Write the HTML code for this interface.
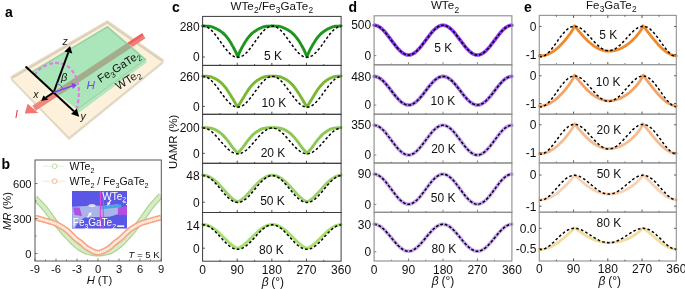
<!DOCTYPE html><html><head><meta charset="utf-8"><style>html,body{margin:0;padding:0;background:#fff;width:685px;height:289px;overflow:hidden}svg{display:block;will-change:transform}text{font-family:"Liberation Sans", sans-serif}</style></head><body>
<svg width="685" height="289" viewBox="0 0 685 289">
<rect width="685" height="289" fill="#fff"/>
<text x="5" y="16.5" font-size="14" text-anchor="start" font-weight="bold" font-style="normal" fill="#000" >a</text>
<text x="1.5" y="169" font-size="14" text-anchor="start" font-weight="bold" font-style="normal" fill="#000" >b</text>
<text x="172" y="12.3" font-size="14" text-anchor="start" font-weight="bold" font-style="normal" fill="#000" >c</text>
<text x="348.6" y="12" font-size="14" text-anchor="start" font-weight="bold" font-style="normal" fill="#000" >d</text>
<text x="524" y="12" font-size="14" text-anchor="start" font-weight="bold" font-style="normal" fill="#000" >e</text>
<text x="230.5" y="10" font-size="11.6" fill="#111">WTe<tspan dy="3.4" dx="0.3" font-size="8.4">2</tspan><tspan dy="-3.4">/Fe</tspan><tspan dy="3.4" dx="0.3" font-size="8.4">3</tspan><tspan dy="-3.4">GaTe</tspan><tspan dy="3.4" dx="0.3" font-size="8.4">2</tspan></text>
<text x="430.9" y="9.3" font-size="11.6" fill="#111">WTe<tspan dy="3.4" dx="0.3" font-size="8.4">2</tspan></text>
<text x="586.1" y="8.7" font-size="11.4" fill="#111">Fe<tspan dy="3.4" dx="0.3" font-size="8.4">3</tspan><tspan dy="-3.4">GaTe</tspan><tspan dy="3.4" dx="0.3" font-size="8.4">2</tspan></text>
<text transform="translate(177.0,141.8) rotate(-90)" x="0" y="0" font-size="11.4" text-anchor="middle" fill="#111">UAMR (%)</text>
<g>
<path d="M202.6 26.0 L203.1 26.0 L203.4 26.0 L204.1 26.0 L204.9 26.0 L205.7 26.1 L206.4 26.1 L207.2 26.1 L208.0 26.2 L208.8 26.3 L209.5 26.3 L210.3 26.4 L211.1 26.6 L211.8 26.8 L212.6 27.1 L213.4 27.4 L214.1 27.7 L214.9 28.1 L215.7 28.4 L216.4 28.8 L217.2 29.2 L218.0 29.6 L218.8 30.0 L219.5 30.5 L220.3 31.0 L221.1 31.5 L221.8 32.1 L222.6 32.7 L223.4 33.4 L224.1 34.1 L224.9 34.9 L225.7 35.7 L226.5 36.6 L227.2 37.6 L228.0 38.6 L228.8 39.7 L229.5 40.8 L230.3 42.0 L231.1 43.3 L231.8 44.6 L232.6 46.0 L233.4 47.3 L234.1 48.8 L234.9 50.3 L235.7 51.9 L236.5 53.6 L237.2 55.4 L237.7 56.8 L238.0 56.1 L238.8 54.1 L239.5 52.4 L240.3 50.7 L241.1 49.2 L241.8 47.8 L242.6 46.4 L243.4 45.0 L244.2 43.7 L244.9 42.4 L245.7 41.2 L246.5 40.0 L247.2 38.9 L248.0 37.9 L248.8 36.9 L249.5 36.0 L250.3 35.1 L251.1 34.3 L251.8 33.6 L252.6 32.9 L253.4 32.3 L254.2 31.7 L254.9 31.2 L255.7 30.7 L256.5 30.2 L257.2 29.7 L258.0 29.3 L258.8 28.9 L259.5 28.5 L260.3 28.2 L261.1 27.8 L261.8 27.5 L262.6 27.2 L263.4 26.9 L264.2 26.6 L264.9 26.5 L265.7 26.3 L266.5 26.3 L267.2 26.2 L268.0 26.2 L268.8 26.1 L269.5 26.1 L270.3 26.0 L271.1 26.0 L271.9 26.0 L272.4 26.0 L272.6 26.0 L273.4 26.0 L274.2 26.0 L274.9 26.1 L275.7 26.1 L276.5 26.1 L277.2 26.2 L278.0 26.3 L278.8 26.3 L279.5 26.4 L280.3 26.6 L281.1 26.8 L281.9 27.1 L282.6 27.4 L283.4 27.7 L284.2 28.1 L284.9 28.4 L285.7 28.8 L286.5 29.2 L287.2 29.6 L288.0 30.0 L288.8 30.5 L289.5 31.0 L290.3 31.5 L291.1 32.1 L291.9 32.7 L292.6 33.4 L293.4 34.1 L294.2 34.9 L294.9 35.7 L295.7 36.6 L296.5 37.6 L297.2 38.6 L298.0 39.7 L298.8 40.8 L299.6 42.0 L300.3 43.3 L301.1 44.6 L301.9 46.0 L302.6 47.3 L303.4 48.8 L304.2 50.3 L304.9 51.9 L305.7 53.6 L306.5 55.4 L307.0 56.8 L307.2 56.1 L308.0 54.1 L308.8 52.4 L309.6 50.7 L310.3 49.2 L311.1 47.8 L311.9 46.4 L312.6 45.0 L313.4 43.7 L314.2 42.4 L314.9 41.2 L315.7 40.0 L316.5 38.9 L317.2 37.9 L318.0 36.9 L318.8 36.0 L319.6 35.1 L320.3 34.3 L321.1 33.6 L321.9 32.9 L322.6 32.3 L323.4 31.7 L324.2 31.2 L324.9 30.7 L325.7 30.2 L326.5 29.7 L327.2 29.3 L328.0 28.9 L328.8 28.5 L329.6 28.2 L330.3 27.8 L331.1 27.5 L331.9 27.2 L332.6 26.9 L333.4 26.6 L334.2 26.5 L334.9 26.3 L335.7 26.3 L336.5 26.2 L337.3 26.2 L338.0 26.1 L338.8 26.1 L339.6 26.0 L340.3 26.0 L341.1 26.0" fill="none" stroke="#1c961c" stroke-width="2.9" stroke-linejoin="round" stroke-linecap="round"/>
<path d="M202.6 26.1 L203.1 26.1 L203.4 26.1 L204.1 26.2 L204.9 26.3 L205.7 26.5 L206.4 26.8 L207.2 27.2 L208.0 27.6 L208.8 28.1 L209.5 28.7 L210.3 29.3 L211.1 30.0 L211.8 30.7 L212.6 31.5 L213.4 32.4 L214.1 33.3 L214.9 34.2 L215.7 35.2 L216.4 36.2 L217.2 37.2 L218.0 38.3 L218.8 39.4 L219.5 40.4 L220.3 41.5 L221.1 42.6 L221.8 43.7 L222.6 44.8 L223.4 45.8 L224.1 46.9 L224.9 47.9 L225.7 48.9 L226.5 49.8 L227.2 50.7 L228.0 51.6 L228.8 52.4 L229.5 53.2 L230.3 53.9 L231.1 54.5 L231.8 55.1 L232.6 55.6 L233.4 56.1 L234.1 56.5 L234.9 56.8 L235.7 57.0 L236.5 57.2 L237.2 57.3 L237.7 57.3 L238.0 57.3 L238.8 57.2 L239.5 57.1 L240.3 56.9 L241.1 56.6 L241.8 56.2 L242.6 55.8 L243.4 55.3 L244.2 54.7 L244.9 54.1 L245.7 53.4 L246.5 52.7 L247.2 51.9 L248.0 51.0 L248.8 50.1 L249.5 49.2 L250.3 48.2 L251.1 47.2 L251.8 46.2 L252.6 45.1 L253.4 44.0 L254.2 43.0 L254.9 41.9 L255.7 40.8 L256.5 39.7 L257.2 38.6 L258.0 37.6 L258.8 36.5 L259.5 35.5 L260.3 34.5 L261.1 33.6 L261.8 32.7 L262.6 31.8 L263.4 31.0 L264.2 30.2 L264.9 29.5 L265.7 28.9 L266.5 28.3 L267.2 27.8 L268.0 27.3 L268.8 26.9 L269.5 26.6 L270.3 26.4 L271.1 26.2 L271.9 26.1 L272.4 26.1 L272.6 26.1 L273.4 26.2 L274.2 26.3 L274.9 26.5 L275.7 26.8 L276.5 27.2 L277.2 27.6 L278.0 28.1 L278.8 28.7 L279.5 29.3 L280.3 30.0 L281.1 30.7 L281.9 31.5 L282.6 32.4 L283.4 33.3 L284.2 34.2 L284.9 35.2 L285.7 36.2 L286.5 37.2 L287.2 38.3 L288.0 39.4 L288.8 40.4 L289.5 41.5 L290.3 42.6 L291.1 43.7 L291.9 44.8 L292.6 45.8 L293.4 46.9 L294.2 47.9 L294.9 48.9 L295.7 49.8 L296.5 50.7 L297.2 51.6 L298.0 52.4 L298.8 53.2 L299.6 53.9 L300.3 54.5 L301.1 55.1 L301.9 55.6 L302.6 56.1 L303.4 56.5 L304.2 56.8 L304.9 57.0 L305.7 57.2 L306.5 57.3 L307.0 57.3 L307.2 57.3 L308.0 57.2 L308.8 57.1 L309.6 56.9 L310.3 56.6 L311.1 56.2 L311.9 55.8 L312.6 55.3 L313.4 54.7 L314.2 54.1 L314.9 53.4 L315.7 52.7 L316.5 51.9 L317.2 51.0 L318.0 50.1 L318.8 49.2 L319.6 48.2 L320.3 47.2 L321.1 46.2 L321.9 45.1 L322.6 44.0 L323.4 43.0 L324.2 41.9 L324.9 40.8 L325.7 39.7 L326.5 38.6 L327.2 37.6 L328.0 36.5 L328.8 35.5 L329.6 34.5 L330.3 33.6 L331.1 32.7 L331.9 31.8 L332.6 31.0 L333.4 30.2 L334.2 29.5 L334.9 28.9 L335.7 28.3 L336.5 27.8 L337.3 27.3 L338.0 26.9 L338.8 26.6 L339.6 26.4 L340.3 26.2 L341.1 26.1" fill="none" stroke="#000" stroke-width="1.5" stroke-dasharray="2.6 2.2"/>
<path d="M202.6 76.1 L203.1 76.1 L203.4 76.1 L204.1 76.1 L204.9 76.1 L205.7 76.2 L206.4 76.2 L207.2 76.3 L208.0 76.4 L208.8 76.4 L209.5 76.5 L210.3 76.6 L211.1 76.8 L211.8 77.1 L212.6 77.5 L213.4 77.8 L214.1 78.1 L214.9 78.5 L215.7 78.9 L216.4 79.3 L217.2 79.7 L218.0 80.2 L218.8 80.8 L219.5 81.4 L220.3 82.0 L221.1 82.7 L221.8 83.5 L222.6 84.2 L223.4 85.1 L224.1 85.9 L224.9 86.9 L225.7 87.8 L226.5 88.9 L227.2 90.0 L228.0 91.2 L228.8 92.3 L229.5 93.5 L230.3 94.8 L231.1 96.0 L231.8 97.3 L232.6 98.5 L233.4 99.8 L234.1 101.1 L234.9 102.4 L235.7 103.7 L236.5 104.9 L237.2 106.0 L237.7 106.6 L238.0 106.3 L238.8 105.2 L239.5 104.1 L240.3 102.8 L241.1 101.5 L241.8 100.2 L242.6 98.9 L243.4 97.7 L244.2 96.4 L244.9 95.1 L245.7 93.9 L246.5 92.7 L247.2 91.5 L248.0 90.3 L248.8 89.2 L249.5 88.1 L250.3 87.1 L251.1 86.2 L251.8 85.3 L252.6 84.5 L253.4 83.7 L254.2 82.9 L254.9 82.2 L255.7 81.6 L256.5 81.0 L257.2 80.4 L258.0 79.9 L258.8 79.4 L259.5 79.0 L260.3 78.6 L261.1 78.2 L261.8 77.9 L262.6 77.6 L263.4 77.2 L264.2 76.9 L264.9 76.7 L265.7 76.6 L266.5 76.5 L267.2 76.4 L268.0 76.3 L268.8 76.2 L269.5 76.2 L270.3 76.1 L271.1 76.1 L271.9 76.1 L272.4 76.1 L272.6 76.1 L273.4 76.1 L274.2 76.1 L274.9 76.2 L275.7 76.2 L276.5 76.3 L277.2 76.4 L278.0 76.4 L278.8 76.5 L279.5 76.6 L280.3 76.8 L281.1 77.1 L281.9 77.5 L282.6 77.8 L283.4 78.1 L284.2 78.5 L284.9 78.9 L285.7 79.3 L286.5 79.7 L287.2 80.2 L288.0 80.8 L288.8 81.4 L289.5 82.0 L290.3 82.7 L291.1 83.5 L291.9 84.2 L292.6 85.1 L293.4 85.9 L294.2 86.9 L294.9 87.8 L295.7 88.9 L296.5 90.0 L297.2 91.2 L298.0 92.3 L298.8 93.5 L299.6 94.8 L300.3 96.0 L301.1 97.3 L301.9 98.5 L302.6 99.8 L303.4 101.1 L304.2 102.4 L304.9 103.7 L305.7 104.9 L306.5 106.0 L307.0 106.6 L307.2 106.3 L308.0 105.2 L308.8 104.1 L309.6 102.8 L310.3 101.5 L311.1 100.2 L311.9 98.9 L312.6 97.7 L313.4 96.4 L314.2 95.1 L314.9 93.9 L315.7 92.7 L316.5 91.5 L317.2 90.3 L318.0 89.2 L318.8 88.1 L319.6 87.1 L320.3 86.2 L321.1 85.3 L321.9 84.5 L322.6 83.7 L323.4 82.9 L324.2 82.2 L324.9 81.6 L325.7 81.0 L326.5 80.4 L327.2 79.9 L328.0 79.4 L328.8 79.0 L329.6 78.6 L330.3 78.2 L331.1 77.9 L331.9 77.6 L332.6 77.2 L333.4 76.9 L334.2 76.7 L334.9 76.6 L335.7 76.5 L336.5 76.4 L337.3 76.3 L338.0 76.2 L338.8 76.2 L339.6 76.1 L340.3 76.1 L341.1 76.1" fill="none" stroke="#78b832" stroke-width="2.9" stroke-linejoin="round" stroke-linecap="round"/>
<path d="M202.6 76.4 L203.1 76.4 L203.4 76.4 L204.1 76.5 L204.9 76.6 L205.7 76.8 L206.4 77.1 L207.2 77.5 L208.0 77.9 L208.8 78.4 L209.5 78.9 L210.3 79.6 L211.1 80.2 L211.8 81.0 L212.6 81.8 L213.4 82.6 L214.1 83.5 L214.9 84.4 L215.7 85.4 L216.4 86.3 L217.2 87.4 L218.0 88.4 L218.8 89.5 L219.5 90.5 L220.3 91.6 L221.1 92.7 L221.8 93.7 L222.6 94.8 L223.4 95.8 L224.1 96.8 L224.9 97.8 L225.7 98.8 L226.5 99.7 L227.2 100.6 L228.0 101.5 L228.8 102.3 L229.5 103.0 L230.3 103.7 L231.1 104.4 L231.8 105.0 L232.6 105.5 L233.4 105.9 L234.1 106.3 L234.9 106.6 L235.7 106.8 L236.5 107.0 L237.2 107.1 L237.7 107.1 L238.0 107.1 L238.8 107.0 L239.5 106.9 L240.3 106.7 L241.1 106.4 L241.8 106.0 L242.6 105.6 L243.4 105.1 L244.2 104.6 L244.9 103.9 L245.7 103.3 L246.5 102.5 L247.2 101.7 L248.0 100.9 L248.8 100.0 L249.5 99.1 L250.3 98.1 L251.1 97.2 L251.8 96.1 L252.6 95.1 L253.4 94.0 L254.2 93.0 L254.9 91.9 L255.7 90.8 L256.5 89.8 L257.2 88.7 L258.0 87.7 L258.8 86.7 L259.5 85.7 L260.3 84.7 L261.1 83.8 L261.8 82.9 L262.6 82.0 L263.4 81.2 L264.2 80.5 L264.9 79.8 L265.7 79.1 L266.5 78.5 L267.2 78.0 L268.0 77.6 L268.8 77.2 L269.5 76.9 L270.3 76.7 L271.1 76.5 L271.9 76.4 L272.4 76.4 L272.6 76.4 L273.4 76.5 L274.2 76.6 L274.9 76.8 L275.7 77.1 L276.5 77.5 L277.2 77.9 L278.0 78.4 L278.8 78.9 L279.5 79.6 L280.3 80.2 L281.1 81.0 L281.9 81.8 L282.6 82.6 L283.4 83.5 L284.2 84.4 L284.9 85.4 L285.7 86.3 L286.5 87.4 L287.2 88.4 L288.0 89.5 L288.8 90.5 L289.5 91.6 L290.3 92.7 L291.1 93.7 L291.9 94.8 L292.6 95.8 L293.4 96.8 L294.2 97.8 L294.9 98.8 L295.7 99.7 L296.5 100.6 L297.2 101.5 L298.0 102.3 L298.8 103.0 L299.6 103.7 L300.3 104.4 L301.1 105.0 L301.9 105.5 L302.6 105.9 L303.4 106.3 L304.2 106.6 L304.9 106.8 L305.7 107.0 L306.5 107.1 L307.0 107.1 L307.2 107.1 L308.0 107.0 L308.8 106.9 L309.6 106.7 L310.3 106.4 L311.1 106.0 L311.9 105.6 L312.6 105.1 L313.4 104.6 L314.2 103.9 L314.9 103.3 L315.7 102.5 L316.5 101.7 L317.2 100.9 L318.0 100.0 L318.8 99.1 L319.6 98.1 L320.3 97.2 L321.1 96.1 L321.9 95.1 L322.6 94.0 L323.4 93.0 L324.2 91.9 L324.9 90.8 L325.7 89.8 L326.5 88.7 L327.2 87.7 L328.0 86.7 L328.8 85.7 L329.6 84.7 L330.3 83.8 L331.1 82.9 L331.9 82.0 L332.6 81.2 L333.4 80.5 L334.2 79.8 L334.9 79.1 L335.7 78.5 L336.5 78.0 L337.3 77.6 L338.0 77.2 L338.8 76.9 L339.6 76.7 L340.3 76.5 L341.1 76.4" fill="none" stroke="#000" stroke-width="1.5" stroke-dasharray="2.6 2.2"/>
<path d="M202.6 127.6 L203.1 127.6 L203.4 127.6 L204.1 127.6 L204.9 127.6 L205.7 127.7 L206.4 127.7 L207.2 127.8 L208.0 127.9 L208.8 127.9 L209.5 128.0 L210.3 128.1 L211.1 128.2 L211.8 128.4 L212.6 128.6 L213.4 128.8 L214.1 129.1 L214.9 129.5 L215.7 129.9 L216.4 130.4 L217.2 130.8 L218.0 131.3 L218.8 131.8 L219.5 132.3 L220.3 132.9 L221.1 133.5 L221.8 134.1 L222.6 134.9 L223.4 135.6 L224.1 136.5 L224.9 137.3 L225.7 138.2 L226.5 139.1 L227.2 140.1 L228.0 141.0 L228.8 142.0 L229.5 143.1 L230.3 144.2 L231.1 145.3 L231.8 146.3 L232.6 147.4 L233.4 148.3 L234.1 149.2 L234.9 150.1 L235.7 151.0 L236.5 151.8 L237.2 152.7 L237.7 153.2 L238.0 152.9 L238.8 152.1 L239.5 151.2 L240.3 150.4 L241.1 149.5 L241.8 148.6 L242.6 147.7 L243.4 146.7 L244.2 145.6 L244.9 144.5 L245.7 143.4 L246.5 142.3 L247.2 141.3 L248.0 140.4 L248.8 139.4 L249.5 138.5 L250.3 137.6 L251.1 136.7 L251.8 135.9 L252.6 135.1 L253.4 134.3 L254.2 133.7 L254.9 133.1 L255.7 132.5 L256.5 132.0 L257.2 131.5 L258.0 131.0 L258.8 130.5 L259.5 130.0 L260.3 129.6 L261.1 129.2 L261.8 128.9 L262.6 128.7 L263.4 128.5 L264.2 128.3 L264.9 128.1 L265.7 128.0 L266.5 128.0 L267.2 127.9 L268.0 127.8 L268.8 127.7 L269.5 127.7 L270.3 127.7 L271.1 127.6 L271.9 127.6 L272.4 127.6 L272.6 127.6 L273.4 127.6 L274.2 127.6 L274.9 127.7 L275.7 127.7 L276.5 127.8 L277.2 127.9 L278.0 127.9 L278.8 128.0 L279.5 128.1 L280.3 128.2 L281.1 128.4 L281.9 128.6 L282.6 128.8 L283.4 129.1 L284.2 129.5 L284.9 129.9 L285.7 130.4 L286.5 130.8 L287.2 131.3 L288.0 131.8 L288.8 132.3 L289.5 132.9 L290.3 133.5 L291.1 134.1 L291.9 134.9 L292.6 135.6 L293.4 136.5 L294.2 137.3 L294.9 138.2 L295.7 139.1 L296.5 140.1 L297.2 141.0 L298.0 142.0 L298.8 143.1 L299.6 144.2 L300.3 145.3 L301.1 146.3 L301.9 147.4 L302.6 148.3 L303.4 149.2 L304.2 150.1 L304.9 151.0 L305.7 151.8 L306.5 152.7 L307.0 153.2 L307.2 152.9 L308.0 152.1 L308.8 151.2 L309.6 150.4 L310.3 149.5 L311.1 148.6 L311.9 147.7 L312.6 146.7 L313.4 145.6 L314.2 144.5 L314.9 143.4 L315.7 142.3 L316.5 141.3 L317.2 140.4 L318.0 139.4 L318.8 138.5 L319.6 137.6 L320.3 136.7 L321.1 135.9 L321.9 135.1 L322.6 134.3 L323.4 133.7 L324.2 133.1 L324.9 132.5 L325.7 132.0 L326.5 131.5 L327.2 131.0 L328.0 130.5 L328.8 130.0 L329.6 129.6 L330.3 129.2 L331.1 128.9 L331.9 128.7 L332.6 128.5 L333.4 128.3 L334.2 128.1 L334.9 128.0 L335.7 128.0 L336.5 127.9 L337.3 127.8 L338.0 127.7 L338.8 127.7 L339.6 127.7 L340.3 127.6 L341.1 127.6" fill="none" stroke="#8cc852" stroke-width="2.9" stroke-linejoin="round" stroke-linecap="round"/>
<path d="M202.6 128.0 L203.1 128.0 L203.4 128.0 L204.1 128.1 L204.9 128.2 L205.7 128.4 L206.4 128.6 L207.2 128.9 L208.0 129.2 L208.8 129.7 L209.5 130.1 L210.3 130.7 L211.1 131.2 L211.8 131.8 L212.6 132.5 L213.4 133.2 L214.1 133.9 L214.9 134.7 L215.7 135.5 L216.4 136.4 L217.2 137.2 L218.0 138.1 L218.8 139.0 L219.5 139.9 L220.3 140.8 L221.1 141.7 L221.8 142.6 L222.6 143.4 L223.4 144.3 L224.1 145.2 L224.9 146.0 L225.7 146.8 L226.5 147.6 L227.2 148.4 L228.0 149.1 L228.8 149.8 L229.5 150.4 L230.3 151.0 L231.1 151.5 L231.8 152.0 L232.6 152.4 L233.4 152.8 L234.1 153.1 L234.9 153.4 L235.7 153.6 L236.5 153.7 L237.2 153.8 L237.7 153.8 L238.0 153.8 L238.8 153.7 L239.5 153.6 L240.3 153.4 L241.1 153.2 L241.8 152.9 L242.6 152.6 L243.4 152.1 L244.2 151.7 L244.9 151.1 L245.7 150.6 L246.5 150.0 L247.2 149.3 L248.0 148.6 L248.8 147.9 L249.5 147.1 L250.3 146.3 L251.1 145.4 L251.8 144.6 L252.6 143.7 L253.4 142.8 L254.2 141.9 L254.9 141.0 L255.7 140.1 L256.5 139.2 L257.2 138.4 L258.0 137.5 L258.8 136.6 L259.5 135.8 L260.3 135.0 L261.1 134.2 L261.8 133.4 L262.6 132.7 L263.4 132.0 L264.2 131.4 L264.9 130.8 L265.7 130.3 L266.5 129.8 L267.2 129.4 L268.0 129.0 L268.8 128.7 L269.5 128.4 L270.3 128.2 L271.1 128.1 L271.9 128.0 L272.4 128.0 L272.6 128.0 L273.4 128.1 L274.2 128.2 L274.9 128.4 L275.7 128.6 L276.5 128.9 L277.2 129.2 L278.0 129.7 L278.8 130.1 L279.5 130.7 L280.3 131.2 L281.1 131.8 L281.9 132.5 L282.6 133.2 L283.4 133.9 L284.2 134.7 L284.9 135.5 L285.7 136.4 L286.5 137.2 L287.2 138.1 L288.0 139.0 L288.8 139.9 L289.5 140.8 L290.3 141.7 L291.1 142.6 L291.9 143.4 L292.6 144.3 L293.4 145.2 L294.2 146.0 L294.9 146.8 L295.7 147.6 L296.5 148.4 L297.2 149.1 L298.0 149.8 L298.8 150.4 L299.6 151.0 L300.3 151.5 L301.1 152.0 L301.9 152.4 L302.6 152.8 L303.4 153.1 L304.2 153.4 L304.9 153.6 L305.7 153.7 L306.5 153.8 L307.0 153.8 L307.2 153.8 L308.0 153.7 L308.8 153.6 L309.6 153.4 L310.3 153.2 L311.1 152.9 L311.9 152.6 L312.6 152.1 L313.4 151.7 L314.2 151.1 L314.9 150.6 L315.7 150.0 L316.5 149.3 L317.2 148.6 L318.0 147.9 L318.8 147.1 L319.6 146.3 L320.3 145.4 L321.1 144.6 L321.9 143.7 L322.6 142.8 L323.4 141.9 L324.2 141.0 L324.9 140.1 L325.7 139.2 L326.5 138.4 L327.2 137.5 L328.0 136.6 L328.8 135.8 L329.6 135.0 L330.3 134.2 L331.1 133.4 L331.9 132.7 L332.6 132.0 L333.4 131.4 L334.2 130.8 L334.9 130.3 L335.7 129.8 L336.5 129.4 L337.3 129.0 L338.0 128.7 L338.8 128.4 L339.6 128.2 L340.3 128.1 L341.1 128.0" fill="none" stroke="#000" stroke-width="1.5" stroke-dasharray="2.6 2.2"/>
<path d="M202.6 175.2 L203.1 175.2 L203.4 175.2 L204.1 175.2 L204.9 175.3 L205.7 175.5 L206.4 175.7 L207.2 175.9 L208.0 176.2 L208.8 176.5 L209.5 176.9 L210.3 177.3 L211.1 177.7 L211.8 178.2 L212.6 178.7 L213.4 179.3 L214.1 179.9 L214.9 180.6 L215.7 181.2 L216.4 181.9 L217.2 182.6 L218.0 183.4 L218.8 184.2 L219.5 185.0 L220.3 185.8 L221.1 186.6 L221.8 187.4 L222.6 188.3 L223.4 189.1 L224.1 190.0 L224.9 190.9 L225.7 191.7 L226.5 192.6 L227.2 193.4 L228.0 194.2 L228.8 195.0 L229.5 195.8 L230.3 196.6 L231.1 197.3 L231.8 198.0 L232.6 198.7 L233.4 199.3 L234.1 199.9 L234.9 200.4 L235.7 200.9 L236.5 201.2 L237.2 201.5 L237.7 201.6 L238.0 201.6 L238.8 201.3 L239.5 201.0 L240.3 200.5 L241.1 200.0 L241.8 199.5 L242.6 198.9 L243.4 198.2 L244.2 197.5 L244.9 196.8 L245.7 196.1 L246.5 195.3 L247.2 194.5 L248.0 193.6 L248.8 192.8 L249.5 192.0 L250.3 191.1 L251.1 190.3 L251.8 189.4 L252.6 188.5 L253.4 187.7 L254.2 186.9 L254.9 186.0 L255.7 185.2 L256.5 184.4 L257.2 183.6 L258.0 182.9 L258.8 182.1 L259.5 181.4 L260.3 180.7 L261.1 180.1 L261.8 179.5 L262.6 178.9 L263.4 178.4 L264.2 177.9 L264.9 177.4 L265.7 177.0 L266.5 176.6 L267.2 176.3 L268.0 176.0 L268.8 175.7 L269.5 175.5 L270.3 175.4 L271.1 175.3 L271.9 175.2 L272.4 175.2 L272.6 175.2 L273.4 175.2 L274.2 175.3 L274.9 175.5 L275.7 175.7 L276.5 175.9 L277.2 176.2 L278.0 176.5 L278.8 176.9 L279.5 177.3 L280.3 177.7 L281.1 178.2 L281.9 178.7 L282.6 179.3 L283.4 179.9 L284.2 180.6 L284.9 181.2 L285.7 181.9 L286.5 182.6 L287.2 183.4 L288.0 184.2 L288.8 185.0 L289.5 185.8 L290.3 186.6 L291.1 187.4 L291.9 188.3 L292.6 189.1 L293.4 190.0 L294.2 190.9 L294.9 191.7 L295.7 192.6 L296.5 193.4 L297.2 194.2 L298.0 195.0 L298.8 195.8 L299.6 196.6 L300.3 197.3 L301.1 198.0 L301.9 198.7 L302.6 199.3 L303.4 199.9 L304.2 200.4 L304.9 200.9 L305.7 201.2 L306.5 201.5 L307.0 201.6 L307.2 201.6 L308.0 201.3 L308.8 201.0 L309.6 200.5 L310.3 200.0 L311.1 199.5 L311.9 198.9 L312.6 198.2 L313.4 197.5 L314.2 196.8 L314.9 196.1 L315.7 195.3 L316.5 194.5 L317.2 193.6 L318.0 192.8 L318.8 192.0 L319.6 191.1 L320.3 190.3 L321.1 189.4 L321.9 188.5 L322.6 187.7 L323.4 186.9 L324.2 186.0 L324.9 185.2 L325.7 184.4 L326.5 183.6 L327.2 182.9 L328.0 182.1 L328.8 181.4 L329.6 180.7 L330.3 180.1 L331.1 179.5 L331.9 178.9 L332.6 178.4 L333.4 177.9 L334.2 177.4 L334.9 177.0 L335.7 176.6 L336.5 176.3 L337.3 176.0 L338.0 175.7 L338.8 175.5 L339.6 175.4 L340.3 175.3 L341.1 175.2" fill="none" stroke="#9ed070" stroke-width="2.9" stroke-linejoin="round" stroke-linecap="round"/>
<path d="M202.6 175.6 L203.1 175.6 L203.4 175.6 L204.1 175.7 L204.9 175.8 L205.7 176.0 L206.4 176.2 L207.2 176.5 L208.0 176.9 L208.8 177.3 L209.5 177.8 L210.3 178.4 L211.1 178.9 L211.8 179.6 L212.6 180.3 L213.4 181.0 L214.1 181.8 L214.9 182.6 L215.7 183.4 L216.4 184.3 L217.2 185.2 L218.0 186.1 L218.8 187.0 L219.5 187.9 L220.3 188.9 L221.1 189.8 L221.8 190.7 L222.6 191.6 L223.4 192.6 L224.1 193.5 L224.9 194.3 L225.7 195.2 L226.5 196.0 L227.2 196.8 L228.0 197.5 L228.8 198.2 L229.5 198.9 L230.3 199.5 L231.1 200.0 L231.8 200.5 L232.6 201.0 L233.4 201.4 L234.1 201.7 L234.9 202.0 L235.7 202.2 L236.5 202.3 L237.2 202.4 L237.7 202.4 L238.0 202.4 L238.8 202.3 L239.5 202.2 L240.3 202.0 L241.1 201.8 L241.8 201.5 L242.6 201.1 L243.4 200.7 L244.2 200.2 L244.9 199.6 L245.7 199.1 L246.5 198.4 L247.2 197.7 L248.0 197.0 L248.8 196.2 L249.5 195.4 L250.3 194.6 L251.1 193.7 L251.8 192.8 L252.6 191.9 L253.4 191.0 L254.2 190.1 L254.9 189.1 L255.7 188.2 L256.5 187.3 L257.2 186.4 L258.0 185.4 L258.8 184.5 L259.5 183.7 L260.3 182.8 L261.1 182.0 L261.8 181.2 L262.6 180.5 L263.4 179.8 L264.2 179.1 L264.9 178.5 L265.7 178.0 L266.5 177.5 L267.2 177.0 L268.0 176.6 L268.8 176.3 L269.5 176.0 L270.3 175.8 L271.1 175.7 L271.9 175.6 L272.4 175.6 L272.6 175.6 L273.4 175.7 L274.2 175.8 L274.9 176.0 L275.7 176.2 L276.5 176.5 L277.2 176.9 L278.0 177.3 L278.8 177.8 L279.5 178.4 L280.3 178.9 L281.1 179.6 L281.9 180.3 L282.6 181.0 L283.4 181.8 L284.2 182.6 L284.9 183.4 L285.7 184.3 L286.5 185.2 L287.2 186.1 L288.0 187.0 L288.8 187.9 L289.5 188.9 L290.3 189.8 L291.1 190.7 L291.9 191.6 L292.6 192.6 L293.4 193.5 L294.2 194.3 L294.9 195.2 L295.7 196.0 L296.5 196.8 L297.2 197.5 L298.0 198.2 L298.8 198.9 L299.6 199.5 L300.3 200.0 L301.1 200.5 L301.9 201.0 L302.6 201.4 L303.4 201.7 L304.2 202.0 L304.9 202.2 L305.7 202.3 L306.5 202.4 L307.0 202.4 L307.2 202.4 L308.0 202.3 L308.8 202.2 L309.6 202.0 L310.3 201.8 L311.1 201.5 L311.9 201.1 L312.6 200.7 L313.4 200.2 L314.2 199.6 L314.9 199.1 L315.7 198.4 L316.5 197.7 L317.2 197.0 L318.0 196.2 L318.8 195.4 L319.6 194.6 L320.3 193.7 L321.1 192.8 L321.9 191.9 L322.6 191.0 L323.4 190.1 L324.2 189.1 L324.9 188.2 L325.7 187.3 L326.5 186.4 L327.2 185.4 L328.0 184.5 L328.8 183.7 L329.6 182.8 L330.3 182.0 L331.1 181.2 L331.9 180.5 L332.6 179.8 L333.4 179.1 L334.2 178.5 L334.9 178.0 L335.7 177.5 L336.5 177.0 L337.3 176.6 L338.0 176.3 L338.8 176.0 L339.6 175.8 L340.3 175.7 L341.1 175.6" fill="none" stroke="#000" stroke-width="1.5" stroke-dasharray="2.6 2.2"/>
<path d="M202.6 224.5 L203.1 224.5 L203.4 224.5 L204.1 224.5 L204.9 224.6 L205.7 224.7 L206.4 224.9 L207.2 225.1 L208.0 225.4 L208.8 225.7 L209.5 226.0 L210.3 226.4 L211.1 226.8 L211.8 227.2 L212.6 227.7 L213.4 228.2 L214.1 228.7 L214.9 229.3 L215.7 229.9 L216.4 230.5 L217.2 231.2 L218.0 231.9 L218.8 232.6 L219.5 233.3 L220.3 234.0 L221.1 234.7 L221.8 235.5 L222.6 236.3 L223.4 237.0 L224.1 237.8 L224.9 238.6 L225.7 239.3 L226.5 240.1 L227.2 240.8 L228.0 241.6 L228.8 242.3 L229.5 243.0 L230.3 243.7 L231.1 244.4 L231.8 245.0 L232.6 245.6 L233.4 246.1 L234.1 246.7 L234.9 247.1 L235.7 247.5 L236.5 247.9 L237.2 248.1 L237.7 248.2 L238.0 248.2 L238.8 248.0 L239.5 247.6 L240.3 247.3 L241.1 246.8 L241.8 246.3 L242.6 245.8 L243.4 245.2 L244.2 244.5 L244.9 243.9 L245.7 243.2 L246.5 242.5 L247.2 241.8 L248.0 241.1 L248.8 240.3 L249.5 239.6 L250.3 238.8 L251.1 238.0 L251.8 237.3 L252.6 236.5 L253.4 235.7 L254.2 235.0 L254.9 234.2 L255.7 233.5 L256.5 232.8 L257.2 232.1 L258.0 231.4 L258.8 230.7 L259.5 230.1 L260.3 229.5 L261.1 228.9 L261.8 228.3 L262.6 227.8 L263.4 227.3 L264.2 226.9 L264.9 226.5 L265.7 226.1 L266.5 225.7 L267.2 225.4 L268.0 225.2 L268.8 225.0 L269.5 224.8 L270.3 224.7 L271.1 224.6 L271.9 224.5 L272.4 224.5 L272.6 224.5 L273.4 224.5 L274.2 224.6 L274.9 224.7 L275.7 224.9 L276.5 225.1 L277.2 225.4 L278.0 225.7 L278.8 226.0 L279.5 226.4 L280.3 226.8 L281.1 227.2 L281.9 227.7 L282.6 228.2 L283.4 228.7 L284.2 229.3 L284.9 229.9 L285.7 230.5 L286.5 231.2 L287.2 231.9 L288.0 232.6 L288.8 233.3 L289.5 234.0 L290.3 234.7 L291.1 235.5 L291.9 236.3 L292.6 237.0 L293.4 237.8 L294.2 238.6 L294.9 239.3 L295.7 240.1 L296.5 240.8 L297.2 241.6 L298.0 242.3 L298.8 243.0 L299.6 243.7 L300.3 244.4 L301.1 245.0 L301.9 245.6 L302.6 246.1 L303.4 246.7 L304.2 247.1 L304.9 247.5 L305.7 247.9 L306.5 248.1 L307.0 248.2 L307.2 248.2 L308.0 248.0 L308.8 247.6 L309.6 247.3 L310.3 246.8 L311.1 246.3 L311.9 245.8 L312.6 245.2 L313.4 244.5 L314.2 243.9 L314.9 243.2 L315.7 242.5 L316.5 241.8 L317.2 241.1 L318.0 240.3 L318.8 239.6 L319.6 238.8 L320.3 238.0 L321.1 237.3 L321.9 236.5 L322.6 235.7 L323.4 235.0 L324.2 234.2 L324.9 233.5 L325.7 232.8 L326.5 232.1 L327.2 231.4 L328.0 230.7 L328.8 230.1 L329.6 229.5 L330.3 228.9 L331.1 228.3 L331.9 227.8 L332.6 227.3 L333.4 226.9 L334.2 226.5 L334.9 226.1 L335.7 225.7 L336.5 225.4 L337.3 225.2 L338.0 225.0 L338.8 224.8 L339.6 224.7 L340.3 224.6 L341.1 224.5" fill="none" stroke="#a8e070" stroke-width="2.9" stroke-linejoin="round" stroke-linecap="round"/>
<path d="M202.6 224.8 L203.1 224.8 L203.4 224.8 L204.1 224.9 L204.9 225.0 L205.7 225.1 L206.4 225.4 L207.2 225.6 L208.0 226.0 L208.8 226.4 L209.5 226.8 L210.3 227.3 L211.1 227.9 L211.8 228.4 L212.6 229.1 L213.4 229.7 L214.1 230.5 L214.9 231.2 L215.7 232.0 L216.4 232.7 L217.2 233.6 L218.0 234.4 L218.8 235.2 L219.5 236.1 L220.3 236.9 L221.1 237.8 L221.8 238.6 L222.6 239.5 L223.4 240.3 L224.1 241.1 L224.9 241.9 L225.7 242.7 L226.5 243.4 L227.2 244.1 L228.0 244.8 L228.8 245.5 L229.5 246.1 L230.3 246.6 L231.1 247.1 L231.8 247.6 L232.6 248.0 L233.4 248.4 L234.1 248.7 L234.9 248.9 L235.7 249.1 L236.5 249.2 L237.2 249.3 L237.7 249.3 L238.0 249.3 L238.8 249.2 L239.5 249.1 L240.3 249.0 L241.1 248.7 L241.8 248.5 L242.6 248.1 L243.4 247.7 L244.2 247.3 L244.9 246.8 L245.7 246.2 L246.5 245.7 L247.2 245.0 L248.0 244.4 L248.8 243.6 L249.5 242.9 L250.3 242.1 L251.1 241.4 L251.8 240.5 L252.6 239.7 L253.4 238.9 L254.2 238.0 L254.9 237.2 L255.7 236.3 L256.5 235.5 L257.2 234.6 L258.0 233.8 L258.8 233.0 L259.5 232.2 L260.3 231.4 L261.1 230.7 L261.8 230.0 L262.6 229.3 L263.4 228.6 L264.2 228.0 L264.9 227.5 L265.7 227.0 L266.5 226.5 L267.2 226.1 L268.0 225.7 L268.8 225.4 L269.5 225.2 L270.3 225.0 L271.1 224.9 L271.9 224.8 L272.4 224.8 L272.6 224.8 L273.4 224.9 L274.2 225.0 L274.9 225.1 L275.7 225.4 L276.5 225.6 L277.2 226.0 L278.0 226.4 L278.8 226.8 L279.5 227.3 L280.3 227.9 L281.1 228.4 L281.9 229.1 L282.6 229.7 L283.4 230.5 L284.2 231.2 L284.9 232.0 L285.7 232.7 L286.5 233.6 L287.2 234.4 L288.0 235.2 L288.8 236.1 L289.5 236.9 L290.3 237.8 L291.1 238.6 L291.9 239.5 L292.6 240.3 L293.4 241.1 L294.2 241.9 L294.9 242.7 L295.7 243.4 L296.5 244.1 L297.2 244.8 L298.0 245.5 L298.8 246.1 L299.6 246.6 L300.3 247.1 L301.1 247.6 L301.9 248.0 L302.6 248.4 L303.4 248.7 L304.2 248.9 L304.9 249.1 L305.7 249.2 L306.5 249.3 L307.0 249.3 L307.2 249.3 L308.0 249.2 L308.8 249.1 L309.6 249.0 L310.3 248.7 L311.1 248.5 L311.9 248.1 L312.6 247.7 L313.4 247.3 L314.2 246.8 L314.9 246.2 L315.7 245.7 L316.5 245.0 L317.2 244.4 L318.0 243.6 L318.8 242.9 L319.6 242.1 L320.3 241.4 L321.1 240.5 L321.9 239.7 L322.6 238.9 L323.4 238.0 L324.2 237.2 L324.9 236.3 L325.7 235.5 L326.5 234.6 L327.2 233.8 L328.0 233.0 L328.8 232.2 L329.6 231.4 L330.3 230.7 L331.1 230.0 L331.9 229.3 L332.6 228.6 L333.4 228.0 L334.2 227.5 L334.9 227.0 L335.7 226.5 L336.5 226.1 L337.3 225.7 L338.0 225.4 L338.8 225.2 L339.6 225.0 L340.3 224.9 L341.1 224.8" fill="none" stroke="#000" stroke-width="1.5" stroke-dasharray="2.6 2.2"/>
<rect x="202.6" y="16.4" width="138.5" height="49" fill="none" stroke="#3c3c3c" stroke-width="1"/>
<line x1="219.91" y1="65.4" x2="219.91" y2="64.1" stroke="#3c3c3c" stroke-width="0.9"/>
<line x1="237.22" y1="65.4" x2="237.22" y2="62.8" stroke="#3c3c3c" stroke-width="0.9"/>
<line x1="254.54" y1="65.4" x2="254.54" y2="64.1" stroke="#3c3c3c" stroke-width="0.9"/>
<line x1="271.85" y1="65.4" x2="271.85" y2="62.8" stroke="#3c3c3c" stroke-width="0.9"/>
<line x1="289.16" y1="65.4" x2="289.16" y2="64.1" stroke="#3c3c3c" stroke-width="0.9"/>
<line x1="306.48" y1="65.4" x2="306.48" y2="62.8" stroke="#3c3c3c" stroke-width="0.9"/>
<line x1="323.79" y1="65.4" x2="323.79" y2="64.1" stroke="#3c3c3c" stroke-width="0.9"/>
<line x1="202.6" y1="26.2" x2="204.8" y2="26.2" stroke="#3c3c3c" stroke-width="0.9"/>
<line x1="202.6" y1="57" x2="204.8" y2="57" stroke="#3c3c3c" stroke-width="0.9"/>
<text x="199.7" y="30.5" font-size="12" text-anchor="end" font-weight="normal" font-style="normal" fill="#111" >280</text>
<text x="199.7" y="61.3" font-size="12" text-anchor="end" font-weight="normal" font-style="normal" fill="#111" >0</text>
<text x="273" y="59.7" font-size="12" text-anchor="middle" font-weight="normal" font-style="normal" fill="#111" >5 K</text>
<rect x="202.6" y="65.4" width="138.5" height="48.9" fill="none" stroke="#3c3c3c" stroke-width="1"/>
<line x1="219.91" y1="114.3" x2="219.91" y2="113" stroke="#3c3c3c" stroke-width="0.9"/>
<line x1="237.22" y1="114.3" x2="237.22" y2="111.7" stroke="#3c3c3c" stroke-width="0.9"/>
<line x1="254.54" y1="114.3" x2="254.54" y2="113" stroke="#3c3c3c" stroke-width="0.9"/>
<line x1="271.85" y1="114.3" x2="271.85" y2="111.7" stroke="#3c3c3c" stroke-width="0.9"/>
<line x1="289.16" y1="114.3" x2="289.16" y2="113" stroke="#3c3c3c" stroke-width="0.9"/>
<line x1="306.48" y1="114.3" x2="306.48" y2="111.7" stroke="#3c3c3c" stroke-width="0.9"/>
<line x1="323.79" y1="114.3" x2="323.79" y2="113" stroke="#3c3c3c" stroke-width="0.9"/>
<line x1="202.6" y1="77" x2="204.8" y2="77" stroke="#3c3c3c" stroke-width="0.9"/>
<line x1="202.6" y1="106.4" x2="204.8" y2="106.4" stroke="#3c3c3c" stroke-width="0.9"/>
<text x="199.7" y="81.3" font-size="12" text-anchor="end" font-weight="normal" font-style="normal" fill="#111" >260</text>
<text x="199.7" y="110.7" font-size="12" text-anchor="end" font-weight="normal" font-style="normal" fill="#111" >0</text>
<text x="273.8" y="106.8" font-size="12" text-anchor="middle" font-weight="normal" font-style="normal" fill="#111" >10 K</text>
<rect x="202.6" y="114.3" width="138.5" height="49" fill="none" stroke="#3c3c3c" stroke-width="1"/>
<line x1="219.91" y1="163.3" x2="219.91" y2="162" stroke="#3c3c3c" stroke-width="0.9"/>
<line x1="237.22" y1="163.3" x2="237.22" y2="160.7" stroke="#3c3c3c" stroke-width="0.9"/>
<line x1="254.54" y1="163.3" x2="254.54" y2="162" stroke="#3c3c3c" stroke-width="0.9"/>
<line x1="271.85" y1="163.3" x2="271.85" y2="160.7" stroke="#3c3c3c" stroke-width="0.9"/>
<line x1="289.16" y1="163.3" x2="289.16" y2="162" stroke="#3c3c3c" stroke-width="0.9"/>
<line x1="306.48" y1="163.3" x2="306.48" y2="160.7" stroke="#3c3c3c" stroke-width="0.9"/>
<line x1="323.79" y1="163.3" x2="323.79" y2="162" stroke="#3c3c3c" stroke-width="0.9"/>
<line x1="202.6" y1="127.7" x2="204.8" y2="127.7" stroke="#3c3c3c" stroke-width="0.9"/>
<line x1="202.6" y1="153.3" x2="204.8" y2="153.3" stroke="#3c3c3c" stroke-width="0.9"/>
<text x="199.7" y="132" font-size="12" text-anchor="end" font-weight="normal" font-style="normal" fill="#111" >200</text>
<text x="199.7" y="157.6" font-size="12" text-anchor="end" font-weight="normal" font-style="normal" fill="#111" >0</text>
<text x="273" y="156.8" font-size="12" text-anchor="middle" font-weight="normal" font-style="normal" fill="#111" >20 K</text>
<rect x="202.6" y="163.3" width="138.5" height="49.2" fill="none" stroke="#3c3c3c" stroke-width="1"/>
<line x1="219.91" y1="212.5" x2="219.91" y2="211.2" stroke="#3c3c3c" stroke-width="0.9"/>
<line x1="237.22" y1="212.5" x2="237.22" y2="209.9" stroke="#3c3c3c" stroke-width="0.9"/>
<line x1="254.54" y1="212.5" x2="254.54" y2="211.2" stroke="#3c3c3c" stroke-width="0.9"/>
<line x1="271.85" y1="212.5" x2="271.85" y2="209.9" stroke="#3c3c3c" stroke-width="0.9"/>
<line x1="289.16" y1="212.5" x2="289.16" y2="211.2" stroke="#3c3c3c" stroke-width="0.9"/>
<line x1="306.48" y1="212.5" x2="306.48" y2="209.9" stroke="#3c3c3c" stroke-width="0.9"/>
<line x1="323.79" y1="212.5" x2="323.79" y2="211.2" stroke="#3c3c3c" stroke-width="0.9"/>
<line x1="202.6" y1="175.3" x2="204.8" y2="175.3" stroke="#3c3c3c" stroke-width="0.9"/>
<line x1="202.6" y1="202.2" x2="204.8" y2="202.2" stroke="#3c3c3c" stroke-width="0.9"/>
<text x="199.7" y="179.6" font-size="12" text-anchor="end" font-weight="normal" font-style="normal" fill="#111" >48</text>
<text x="199.7" y="206.5" font-size="12" text-anchor="end" font-weight="normal" font-style="normal" fill="#111" >0</text>
<text x="272.5" y="204.7" font-size="12" text-anchor="middle" font-weight="normal" font-style="normal" fill="#111" >50 K</text>
<rect x="202.6" y="212.5" width="138.5" height="48.7" fill="none" stroke="#3c3c3c" stroke-width="1"/>
<line x1="219.91" y1="261.2" x2="219.91" y2="259.9" stroke="#3c3c3c" stroke-width="0.9"/>
<line x1="237.22" y1="261.2" x2="237.22" y2="258.6" stroke="#3c3c3c" stroke-width="0.9"/>
<line x1="254.54" y1="261.2" x2="254.54" y2="259.9" stroke="#3c3c3c" stroke-width="0.9"/>
<line x1="271.85" y1="261.2" x2="271.85" y2="258.6" stroke="#3c3c3c" stroke-width="0.9"/>
<line x1="289.16" y1="261.2" x2="289.16" y2="259.9" stroke="#3c3c3c" stroke-width="0.9"/>
<line x1="306.48" y1="261.2" x2="306.48" y2="258.6" stroke="#3c3c3c" stroke-width="0.9"/>
<line x1="323.79" y1="261.2" x2="323.79" y2="259.9" stroke="#3c3c3c" stroke-width="0.9"/>
<line x1="202.6" y1="225.7" x2="204.8" y2="225.7" stroke="#3c3c3c" stroke-width="0.9"/>
<line x1="202.6" y1="248.2" x2="204.8" y2="248.2" stroke="#3c3c3c" stroke-width="0.9"/>
<text x="199.7" y="230" font-size="12" text-anchor="end" font-weight="normal" font-style="normal" fill="#111" >14</text>
<text x="199.7" y="252.5" font-size="12" text-anchor="end" font-weight="normal" font-style="normal" fill="#111" >0</text>
<text x="271.4" y="253.8" font-size="12" text-anchor="middle" font-weight="normal" font-style="normal" fill="#111" >80 K</text>
<text x="202.6" y="274.3" font-size="12" text-anchor="middle" font-weight="normal" font-style="normal" fill="#111" >0</text>
<text x="237.22" y="274.3" font-size="12" text-anchor="middle" font-weight="normal" font-style="normal" fill="#111" >90</text>
<text x="271.85" y="274.3" font-size="12" text-anchor="middle" font-weight="normal" font-style="normal" fill="#111" >180</text>
<text x="306.48" y="274.3" font-size="12" text-anchor="middle" font-weight="normal" font-style="normal" fill="#111" >270</text>
<text x="341.1" y="274.3" font-size="12" text-anchor="middle" font-weight="normal" font-style="normal" fill="#111" >360</text>
<text x="272.85" y="285.8" font-size="12" text-anchor="middle" fill="#111"><tspan font-style="italic">&#946;</tspan><tspan dx="-0.6"> (°)</tspan></text>
</g>
<g>
<path d="M374.1 25.3 L374.9 25.3 L375.6 25.4 L376.4 25.6 L377.2 25.9 L377.9 26.2 L378.7 26.6 L379.5 27.0 L380.2 27.6 L381.0 28.1 L381.8 28.8 L382.5 29.5 L383.3 30.2 L384.1 31.0 L384.8 31.8 L385.6 32.7 L386.3 33.6 L387.1 34.6 L387.9 35.6 L388.6 36.6 L389.4 37.6 L390.2 38.6 L390.9 39.6 L391.7 40.7 L392.5 41.7 L393.2 42.7 L394.0 43.7 L394.8 44.7 L395.5 45.7 L396.3 46.7 L397.1 47.6 L397.8 48.5 L398.6 49.3 L399.4 50.1 L400.1 50.8 L400.9 51.5 L401.7 52.2 L402.4 52.7 L403.2 53.3 L404.0 53.7 L404.7 54.1 L405.5 54.4 L406.3 54.7 L407.0 54.9 L407.8 55.0 L408.6 55.0 L409.3 55.0 L410.1 54.9 L410.8 54.7 L411.6 54.4 L412.4 54.1 L413.1 53.7 L413.9 53.3 L414.7 52.7 L415.4 52.2 L416.2 51.5 L417.0 50.8 L417.7 50.1 L418.5 49.3 L419.3 48.5 L420.0 47.6 L420.8 46.7 L421.6 45.7 L422.3 44.7 L423.1 43.7 L423.9 42.7 L424.6 41.7 L425.4 40.7 L426.2 39.6 L426.9 38.6 L427.7 37.6 L428.5 36.6 L429.2 35.6 L430.0 34.6 L430.8 33.6 L431.5 32.7 L432.3 31.8 L433.0 31.0 L433.8 30.2 L434.6 29.5 L435.3 28.8 L436.1 28.1 L436.9 27.6 L437.6 27.0 L438.4 26.6 L439.2 26.2 L439.9 25.9 L440.7 25.6 L441.5 25.4 L442.2 25.3 L443.0 25.3 L443.8 25.3 L444.5 25.4 L445.3 25.6 L446.1 25.9 L446.8 26.2 L447.6 26.6 L448.4 27.0 L449.1 27.6 L449.9 28.1 L450.7 28.8 L451.4 29.5 L452.2 30.2 L453.0 31.0 L453.7 31.8 L454.5 32.7 L455.2 33.6 L456.0 34.6 L456.8 35.6 L457.5 36.6 L458.3 37.6 L459.1 38.6 L459.8 39.6 L460.6 40.7 L461.4 41.7 L462.1 42.7 L462.9 43.7 L463.7 44.7 L464.4 45.7 L465.2 46.7 L466.0 47.6 L466.7 48.5 L467.5 49.3 L468.3 50.1 L469.0 50.8 L469.8 51.5 L470.6 52.2 L471.3 52.7 L472.1 53.3 L472.9 53.7 L473.6 54.1 L474.4 54.4 L475.2 54.7 L475.9 54.9 L476.7 55.0 L477.4 55.0 L478.2 55.0 L479.0 54.9 L479.7 54.7 L480.5 54.4 L481.3 54.1 L482.0 53.7 L482.8 53.3 L483.6 52.7 L484.3 52.2 L485.1 51.5 L485.9 50.8 L486.6 50.1 L487.4 49.3 L488.2 48.5 L488.9 47.6 L489.7 46.7 L490.5 45.7 L491.2 44.7 L492.0 43.7 L492.8 42.7 L493.5 41.7 L494.3 40.7 L495.1 39.6 L495.8 38.6 L496.6 37.6 L497.4 36.6 L498.1 35.6 L498.9 34.6 L499.7 33.6 L500.4 32.7 L501.2 31.8 L501.9 31.0 L502.7 30.2 L503.5 29.5 L504.2 28.8 L505.0 28.1 L505.8 27.6 L506.5 27.0 L507.3 26.6 L508.1 26.2 L508.8 25.9 L509.6 25.6 L510.4 25.4 L511.1 25.3 L511.9 25.3" fill="none" stroke="#8e3cf6" stroke-width="3.6" stroke-linejoin="round" stroke-linecap="round"/>
<path d="M374.1 25.3 L374.9 25.3 L375.6 25.4 L376.4 25.6 L377.2 25.9 L377.9 26.2 L378.7 26.6 L379.5 27.0 L380.2 27.6 L381.0 28.1 L381.8 28.8 L382.5 29.5 L383.3 30.2 L384.1 31.0 L384.8 31.8 L385.6 32.7 L386.3 33.6 L387.1 34.6 L387.9 35.6 L388.6 36.6 L389.4 37.6 L390.2 38.6 L390.9 39.6 L391.7 40.7 L392.5 41.7 L393.2 42.7 L394.0 43.7 L394.8 44.7 L395.5 45.7 L396.3 46.7 L397.1 47.6 L397.8 48.5 L398.6 49.3 L399.4 50.1 L400.1 50.8 L400.9 51.5 L401.7 52.2 L402.4 52.7 L403.2 53.3 L404.0 53.7 L404.7 54.1 L405.5 54.4 L406.3 54.7 L407.0 54.9 L407.8 55.0 L408.6 55.0 L409.3 55.0 L410.1 54.9 L410.8 54.7 L411.6 54.4 L412.4 54.1 L413.1 53.7 L413.9 53.3 L414.7 52.7 L415.4 52.2 L416.2 51.5 L417.0 50.8 L417.7 50.1 L418.5 49.3 L419.3 48.5 L420.0 47.6 L420.8 46.7 L421.6 45.7 L422.3 44.7 L423.1 43.7 L423.9 42.7 L424.6 41.7 L425.4 40.7 L426.2 39.6 L426.9 38.6 L427.7 37.6 L428.5 36.6 L429.2 35.6 L430.0 34.6 L430.8 33.6 L431.5 32.7 L432.3 31.8 L433.0 31.0 L433.8 30.2 L434.6 29.5 L435.3 28.8 L436.1 28.1 L436.9 27.6 L437.6 27.0 L438.4 26.6 L439.2 26.2 L439.9 25.9 L440.7 25.6 L441.5 25.4 L442.2 25.3 L443.0 25.3 L443.8 25.3 L444.5 25.4 L445.3 25.6 L446.1 25.9 L446.8 26.2 L447.6 26.6 L448.4 27.0 L449.1 27.6 L449.9 28.1 L450.7 28.8 L451.4 29.5 L452.2 30.2 L453.0 31.0 L453.7 31.8 L454.5 32.7 L455.2 33.6 L456.0 34.6 L456.8 35.6 L457.5 36.6 L458.3 37.6 L459.1 38.6 L459.8 39.6 L460.6 40.7 L461.4 41.7 L462.1 42.7 L462.9 43.7 L463.7 44.7 L464.4 45.7 L465.2 46.7 L466.0 47.6 L466.7 48.5 L467.5 49.3 L468.3 50.1 L469.0 50.8 L469.8 51.5 L470.6 52.2 L471.3 52.7 L472.1 53.3 L472.9 53.7 L473.6 54.1 L474.4 54.4 L475.2 54.7 L475.9 54.9 L476.7 55.0 L477.4 55.0 L478.2 55.0 L479.0 54.9 L479.7 54.7 L480.5 54.4 L481.3 54.1 L482.0 53.7 L482.8 53.3 L483.6 52.7 L484.3 52.2 L485.1 51.5 L485.9 50.8 L486.6 50.1 L487.4 49.3 L488.2 48.5 L488.9 47.6 L489.7 46.7 L490.5 45.7 L491.2 44.7 L492.0 43.7 L492.8 42.7 L493.5 41.7 L494.3 40.7 L495.1 39.6 L495.8 38.6 L496.6 37.6 L497.4 36.6 L498.1 35.6 L498.9 34.6 L499.7 33.6 L500.4 32.7 L501.2 31.8 L501.9 31.0 L502.7 30.2 L503.5 29.5 L504.2 28.8 L505.0 28.1 L505.8 27.6 L506.5 27.0 L507.3 26.6 L508.1 26.2 L508.8 25.9 L509.6 25.6 L510.4 25.4 L511.1 25.3 L511.9 25.3" fill="none" stroke="#000" stroke-width="1.5" stroke-dasharray="2.8 1.8"/>
<path d="M374.1 76.4 L374.9 76.4 L375.6 76.5 L376.4 76.7 L377.2 77.0 L377.9 77.3 L378.7 77.6 L379.5 78.1 L380.2 78.6 L381.0 79.1 L381.8 79.7 L382.5 80.4 L383.3 81.1 L384.1 81.9 L384.8 82.7 L385.6 83.5 L386.3 84.4 L387.1 85.3 L387.9 86.3 L388.6 87.2 L389.4 88.2 L390.2 89.2 L390.9 90.2 L391.7 91.2 L392.5 92.2 L393.2 93.2 L394.0 94.2 L394.8 95.1 L395.5 96.1 L396.3 97.0 L397.1 97.8 L397.8 98.7 L398.6 99.5 L399.4 100.3 L400.1 101.0 L400.9 101.7 L401.7 102.3 L402.4 102.8 L403.2 103.3 L404.0 103.8 L404.7 104.1 L405.5 104.4 L406.3 104.7 L407.0 104.9 L407.8 105.0 L408.6 105.0 L409.3 105.0 L410.1 104.9 L410.8 104.7 L411.6 104.4 L412.4 104.1 L413.1 103.8 L413.9 103.3 L414.7 102.8 L415.4 102.3 L416.2 101.7 L417.0 101.0 L417.7 100.3 L418.5 99.5 L419.3 98.7 L420.0 97.9 L420.8 97.0 L421.6 96.1 L422.3 95.1 L423.1 94.2 L423.9 93.2 L424.6 92.2 L425.4 91.2 L426.2 90.2 L426.9 89.2 L427.7 88.2 L428.5 87.2 L429.2 86.3 L430.0 85.3 L430.8 84.4 L431.5 83.5 L432.3 82.7 L433.0 81.9 L433.8 81.1 L434.6 80.4 L435.3 79.7 L436.1 79.1 L436.9 78.6 L437.6 78.1 L438.4 77.6 L439.2 77.3 L439.9 77.0 L440.7 76.7 L441.5 76.5 L442.2 76.4 L443.0 76.4 L443.8 76.4 L444.5 76.5 L445.3 76.7 L446.1 77.0 L446.8 77.3 L447.6 77.6 L448.4 78.1 L449.1 78.6 L449.9 79.1 L450.7 79.7 L451.4 80.4 L452.2 81.1 L453.0 81.9 L453.7 82.7 L454.5 83.6 L455.2 84.4 L456.0 85.3 L456.8 86.3 L457.5 87.2 L458.3 88.2 L459.1 89.2 L459.8 90.2 L460.6 91.2 L461.4 92.2 L462.1 93.2 L462.9 94.2 L463.7 95.1 L464.4 96.1 L465.2 97.0 L466.0 97.8 L466.7 98.7 L467.5 99.5 L468.3 100.3 L469.0 101.0 L469.8 101.7 L470.6 102.3 L471.3 102.8 L472.1 103.3 L472.9 103.8 L473.6 104.1 L474.4 104.4 L475.2 104.7 L475.9 104.9 L476.7 105.0 L477.4 105.0 L478.2 105.0 L479.0 104.9 L479.7 104.7 L480.5 104.4 L481.3 104.1 L482.0 103.8 L482.8 103.3 L483.6 102.8 L484.3 102.3 L485.1 101.7 L485.9 101.0 L486.6 100.3 L487.4 99.5 L488.2 98.7 L488.9 97.8 L489.7 97.0 L490.5 96.1 L491.2 95.1 L492.0 94.2 L492.8 93.2 L493.5 92.2 L494.3 91.2 L495.1 90.2 L495.8 89.2 L496.6 88.2 L497.4 87.2 L498.1 86.3 L498.9 85.3 L499.7 84.4 L500.4 83.6 L501.2 82.7 L501.9 81.9 L502.7 81.1 L503.5 80.4 L504.2 79.7 L505.0 79.1 L505.8 78.6 L506.5 78.1 L507.3 77.6 L508.1 77.3 L508.8 77.0 L509.6 76.7 L510.4 76.5 L511.1 76.4 L511.9 76.4" fill="none" stroke="#a872f4" stroke-width="3.6" stroke-linejoin="round" stroke-linecap="round"/>
<path d="M374.1 76.4 L374.9 76.4 L375.6 76.5 L376.4 76.7 L377.2 77.0 L377.9 77.3 L378.7 77.6 L379.5 78.1 L380.2 78.6 L381.0 79.1 L381.8 79.7 L382.5 80.4 L383.3 81.1 L384.1 81.9 L384.8 82.7 L385.6 83.5 L386.3 84.4 L387.1 85.3 L387.9 86.3 L388.6 87.2 L389.4 88.2 L390.2 89.2 L390.9 90.2 L391.7 91.2 L392.5 92.2 L393.2 93.2 L394.0 94.2 L394.8 95.1 L395.5 96.1 L396.3 97.0 L397.1 97.8 L397.8 98.7 L398.6 99.5 L399.4 100.3 L400.1 101.0 L400.9 101.7 L401.7 102.3 L402.4 102.8 L403.2 103.3 L404.0 103.8 L404.7 104.1 L405.5 104.4 L406.3 104.7 L407.0 104.9 L407.8 105.0 L408.6 105.0 L409.3 105.0 L410.1 104.9 L410.8 104.7 L411.6 104.4 L412.4 104.1 L413.1 103.8 L413.9 103.3 L414.7 102.8 L415.4 102.3 L416.2 101.7 L417.0 101.0 L417.7 100.3 L418.5 99.5 L419.3 98.7 L420.0 97.9 L420.8 97.0 L421.6 96.1 L422.3 95.1 L423.1 94.2 L423.9 93.2 L424.6 92.2 L425.4 91.2 L426.2 90.2 L426.9 89.2 L427.7 88.2 L428.5 87.2 L429.2 86.3 L430.0 85.3 L430.8 84.4 L431.5 83.5 L432.3 82.7 L433.0 81.9 L433.8 81.1 L434.6 80.4 L435.3 79.7 L436.1 79.1 L436.9 78.6 L437.6 78.1 L438.4 77.6 L439.2 77.3 L439.9 77.0 L440.7 76.7 L441.5 76.5 L442.2 76.4 L443.0 76.4 L443.8 76.4 L444.5 76.5 L445.3 76.7 L446.1 77.0 L446.8 77.3 L447.6 77.6 L448.4 78.1 L449.1 78.6 L449.9 79.1 L450.7 79.7 L451.4 80.4 L452.2 81.1 L453.0 81.9 L453.7 82.7 L454.5 83.6 L455.2 84.4 L456.0 85.3 L456.8 86.3 L457.5 87.2 L458.3 88.2 L459.1 89.2 L459.8 90.2 L460.6 91.2 L461.4 92.2 L462.1 93.2 L462.9 94.2 L463.7 95.1 L464.4 96.1 L465.2 97.0 L466.0 97.8 L466.7 98.7 L467.5 99.5 L468.3 100.3 L469.0 101.0 L469.8 101.7 L470.6 102.3 L471.3 102.8 L472.1 103.3 L472.9 103.8 L473.6 104.1 L474.4 104.4 L475.2 104.7 L475.9 104.9 L476.7 105.0 L477.4 105.0 L478.2 105.0 L479.0 104.9 L479.7 104.7 L480.5 104.4 L481.3 104.1 L482.0 103.8 L482.8 103.3 L483.6 102.8 L484.3 102.3 L485.1 101.7 L485.9 101.0 L486.6 100.3 L487.4 99.5 L488.2 98.7 L488.9 97.8 L489.7 97.0 L490.5 96.1 L491.2 95.1 L492.0 94.2 L492.8 93.2 L493.5 92.2 L494.3 91.2 L495.1 90.2 L495.8 89.2 L496.6 88.2 L497.4 87.2 L498.1 86.3 L498.9 85.3 L499.7 84.4 L500.4 83.6 L501.2 82.7 L501.9 81.9 L502.7 81.1 L503.5 80.4 L504.2 79.7 L505.0 79.1 L505.8 78.6 L506.5 78.1 L507.3 77.6 L508.1 77.3 L508.8 77.0 L509.6 76.7 L510.4 76.5 L511.1 76.4 L511.9 76.4" fill="none" stroke="#000" stroke-width="1.5" stroke-dasharray="2.8 1.8"/>
<path d="M374.1 125.3 L374.9 125.3 L375.6 125.4 L376.4 125.6 L377.2 125.9 L377.9 126.2 L378.7 126.6 L379.5 127.0 L380.2 127.6 L381.0 128.1 L381.8 128.8 L382.5 129.5 L383.3 130.2 L384.1 131.0 L384.8 131.8 L385.6 132.7 L386.3 133.6 L387.1 134.6 L387.9 135.6 L388.6 136.6 L389.4 137.6 L390.2 138.6 L390.9 139.6 L391.7 140.7 L392.5 141.7 L393.2 142.7 L394.0 143.7 L394.8 144.7 L395.5 145.7 L396.3 146.7 L397.1 147.6 L397.8 148.5 L398.6 149.3 L399.4 150.1 L400.1 150.8 L400.9 151.5 L401.7 152.2 L402.4 152.7 L403.2 153.3 L404.0 153.7 L404.7 154.1 L405.5 154.4 L406.3 154.7 L407.0 154.9 L407.8 155.0 L408.6 155.0 L409.3 155.0 L410.1 154.9 L410.8 154.7 L411.6 154.4 L412.4 154.1 L413.1 153.7 L413.9 153.3 L414.7 152.7 L415.4 152.2 L416.2 151.5 L417.0 150.8 L417.7 150.1 L418.5 149.3 L419.3 148.5 L420.0 147.6 L420.8 146.7 L421.6 145.7 L422.3 144.7 L423.1 143.7 L423.9 142.7 L424.6 141.7 L425.4 140.7 L426.2 139.6 L426.9 138.6 L427.7 137.6 L428.5 136.6 L429.2 135.6 L430.0 134.6 L430.8 133.6 L431.5 132.7 L432.3 131.8 L433.0 131.0 L433.8 130.2 L434.6 129.5 L435.3 128.8 L436.1 128.1 L436.9 127.6 L437.6 127.0 L438.4 126.6 L439.2 126.2 L439.9 125.9 L440.7 125.6 L441.5 125.4 L442.2 125.3 L443.0 125.3 L443.8 125.3 L444.5 125.4 L445.3 125.6 L446.1 125.9 L446.8 126.2 L447.6 126.6 L448.4 127.0 L449.1 127.6 L449.9 128.1 L450.7 128.8 L451.4 129.5 L452.2 130.2 L453.0 131.0 L453.7 131.8 L454.5 132.7 L455.2 133.6 L456.0 134.6 L456.8 135.6 L457.5 136.6 L458.3 137.6 L459.1 138.6 L459.8 139.6 L460.6 140.7 L461.4 141.7 L462.1 142.7 L462.9 143.7 L463.7 144.7 L464.4 145.7 L465.2 146.7 L466.0 147.6 L466.7 148.5 L467.5 149.3 L468.3 150.1 L469.0 150.8 L469.8 151.5 L470.6 152.2 L471.3 152.7 L472.1 153.3 L472.9 153.7 L473.6 154.1 L474.4 154.4 L475.2 154.7 L475.9 154.9 L476.7 155.0 L477.4 155.0 L478.2 155.0 L479.0 154.9 L479.7 154.7 L480.5 154.4 L481.3 154.1 L482.0 153.7 L482.8 153.3 L483.6 152.7 L484.3 152.2 L485.1 151.5 L485.9 150.8 L486.6 150.1 L487.4 149.3 L488.2 148.5 L488.9 147.6 L489.7 146.7 L490.5 145.7 L491.2 144.7 L492.0 143.7 L492.8 142.7 L493.5 141.7 L494.3 140.7 L495.1 139.6 L495.8 138.6 L496.6 137.6 L497.4 136.6 L498.1 135.6 L498.9 134.6 L499.7 133.6 L500.4 132.7 L501.2 131.8 L501.9 131.0 L502.7 130.2 L503.5 129.5 L504.2 128.8 L505.0 128.1 L505.8 127.6 L506.5 127.0 L507.3 126.6 L508.1 126.2 L508.8 125.9 L509.6 125.6 L510.4 125.4 L511.1 125.3 L511.9 125.3" fill="none" stroke="#c29cf4" stroke-width="3.6" stroke-linejoin="round" stroke-linecap="round"/>
<path d="M374.1 125.3 L374.9 125.3 L375.6 125.4 L376.4 125.6 L377.2 125.9 L377.9 126.2 L378.7 126.6 L379.5 127.0 L380.2 127.6 L381.0 128.1 L381.8 128.8 L382.5 129.5 L383.3 130.2 L384.1 131.0 L384.8 131.8 L385.6 132.7 L386.3 133.6 L387.1 134.6 L387.9 135.6 L388.6 136.6 L389.4 137.6 L390.2 138.6 L390.9 139.6 L391.7 140.7 L392.5 141.7 L393.2 142.7 L394.0 143.7 L394.8 144.7 L395.5 145.7 L396.3 146.7 L397.1 147.6 L397.8 148.5 L398.6 149.3 L399.4 150.1 L400.1 150.8 L400.9 151.5 L401.7 152.2 L402.4 152.7 L403.2 153.3 L404.0 153.7 L404.7 154.1 L405.5 154.4 L406.3 154.7 L407.0 154.9 L407.8 155.0 L408.6 155.0 L409.3 155.0 L410.1 154.9 L410.8 154.7 L411.6 154.4 L412.4 154.1 L413.1 153.7 L413.9 153.3 L414.7 152.7 L415.4 152.2 L416.2 151.5 L417.0 150.8 L417.7 150.1 L418.5 149.3 L419.3 148.5 L420.0 147.6 L420.8 146.7 L421.6 145.7 L422.3 144.7 L423.1 143.7 L423.9 142.7 L424.6 141.7 L425.4 140.7 L426.2 139.6 L426.9 138.6 L427.7 137.6 L428.5 136.6 L429.2 135.6 L430.0 134.6 L430.8 133.6 L431.5 132.7 L432.3 131.8 L433.0 131.0 L433.8 130.2 L434.6 129.5 L435.3 128.8 L436.1 128.1 L436.9 127.6 L437.6 127.0 L438.4 126.6 L439.2 126.2 L439.9 125.9 L440.7 125.6 L441.5 125.4 L442.2 125.3 L443.0 125.3 L443.8 125.3 L444.5 125.4 L445.3 125.6 L446.1 125.9 L446.8 126.2 L447.6 126.6 L448.4 127.0 L449.1 127.6 L449.9 128.1 L450.7 128.8 L451.4 129.5 L452.2 130.2 L453.0 131.0 L453.7 131.8 L454.5 132.7 L455.2 133.6 L456.0 134.6 L456.8 135.6 L457.5 136.6 L458.3 137.6 L459.1 138.6 L459.8 139.6 L460.6 140.7 L461.4 141.7 L462.1 142.7 L462.9 143.7 L463.7 144.7 L464.4 145.7 L465.2 146.7 L466.0 147.6 L466.7 148.5 L467.5 149.3 L468.3 150.1 L469.0 150.8 L469.8 151.5 L470.6 152.2 L471.3 152.7 L472.1 153.3 L472.9 153.7 L473.6 154.1 L474.4 154.4 L475.2 154.7 L475.9 154.9 L476.7 155.0 L477.4 155.0 L478.2 155.0 L479.0 154.9 L479.7 154.7 L480.5 154.4 L481.3 154.1 L482.0 153.7 L482.8 153.3 L483.6 152.7 L484.3 152.2 L485.1 151.5 L485.9 150.8 L486.6 150.1 L487.4 149.3 L488.2 148.5 L488.9 147.6 L489.7 146.7 L490.5 145.7 L491.2 144.7 L492.0 143.7 L492.8 142.7 L493.5 141.7 L494.3 140.7 L495.1 139.6 L495.8 138.6 L496.6 137.6 L497.4 136.6 L498.1 135.6 L498.9 134.6 L499.7 133.6 L500.4 132.7 L501.2 131.8 L501.9 131.0 L502.7 130.2 L503.5 129.5 L504.2 128.8 L505.0 128.1 L505.8 127.6 L506.5 127.0 L507.3 126.6 L508.1 126.2 L508.8 125.9 L509.6 125.6 L510.4 125.4 L511.1 125.3 L511.9 125.3" fill="none" stroke="#000" stroke-width="1.5" stroke-dasharray="2.8 1.8"/>
<path d="M374.1 174.2 L374.9 174.2 L375.6 174.3 L376.4 174.5 L377.2 174.8 L377.9 175.1 L378.7 175.5 L379.5 176.0 L380.2 176.5 L381.0 177.1 L381.8 177.7 L382.5 178.4 L383.3 179.2 L384.1 180.0 L384.8 180.8 L385.6 181.7 L386.3 182.6 L387.1 183.6 L387.9 184.6 L388.6 185.6 L389.4 186.6 L390.2 187.6 L390.9 188.7 L391.7 189.7 L392.5 190.8 L393.2 191.8 L394.0 192.8 L394.8 193.8 L395.5 194.8 L396.3 195.8 L397.1 196.7 L397.8 197.6 L398.6 198.4 L399.4 199.2 L400.1 200.0 L400.9 200.7 L401.7 201.3 L402.4 201.9 L403.2 202.4 L404.0 202.9 L404.7 203.3 L405.5 203.6 L406.3 203.9 L407.0 204.1 L407.8 204.2 L408.6 204.2 L409.3 204.2 L410.1 204.1 L410.8 203.9 L411.6 203.6 L412.4 203.3 L413.1 202.9 L413.9 202.4 L414.7 201.9 L415.4 201.3 L416.2 200.7 L417.0 200.0 L417.7 199.2 L418.5 198.4 L419.3 197.6 L420.0 196.7 L420.8 195.8 L421.6 194.8 L422.3 193.8 L423.1 192.8 L423.9 191.8 L424.6 190.8 L425.4 189.7 L426.2 188.7 L426.9 187.6 L427.7 186.6 L428.5 185.6 L429.2 184.6 L430.0 183.6 L430.8 182.6 L431.5 181.7 L432.3 180.8 L433.0 180.0 L433.8 179.2 L434.6 178.4 L435.3 177.7 L436.1 177.1 L436.9 176.5 L437.6 176.0 L438.4 175.5 L439.2 175.1 L439.9 174.8 L440.7 174.5 L441.5 174.3 L442.2 174.2 L443.0 174.2 L443.8 174.2 L444.5 174.3 L445.3 174.5 L446.1 174.8 L446.8 175.1 L447.6 175.5 L448.4 176.0 L449.1 176.5 L449.9 177.1 L450.7 177.7 L451.4 178.4 L452.2 179.2 L453.0 180.0 L453.7 180.8 L454.5 181.7 L455.2 182.6 L456.0 183.6 L456.8 184.6 L457.5 185.6 L458.3 186.6 L459.1 187.6 L459.8 188.7 L460.6 189.7 L461.4 190.8 L462.1 191.8 L462.9 192.8 L463.7 193.8 L464.4 194.8 L465.2 195.8 L466.0 196.7 L466.7 197.6 L467.5 198.4 L468.3 199.2 L469.0 200.0 L469.8 200.7 L470.6 201.3 L471.3 201.9 L472.1 202.4 L472.9 202.9 L473.6 203.3 L474.4 203.6 L475.2 203.9 L475.9 204.1 L476.7 204.2 L477.4 204.2 L478.2 204.2 L479.0 204.1 L479.7 203.9 L480.5 203.6 L481.3 203.3 L482.0 202.9 L482.8 202.4 L483.6 201.9 L484.3 201.3 L485.1 200.7 L485.9 200.0 L486.6 199.2 L487.4 198.4 L488.2 197.6 L488.9 196.7 L489.7 195.8 L490.5 194.8 L491.2 193.8 L492.0 192.8 L492.8 191.8 L493.5 190.8 L494.3 189.7 L495.1 188.7 L495.8 187.6 L496.6 186.6 L497.4 185.6 L498.1 184.6 L498.9 183.6 L499.7 182.6 L500.4 181.7 L501.2 180.8 L501.9 180.0 L502.7 179.2 L503.5 178.4 L504.2 177.7 L505.0 177.1 L505.8 176.5 L506.5 176.0 L507.3 175.5 L508.1 175.1 L508.8 174.8 L509.6 174.5 L510.4 174.3 L511.1 174.2 L511.9 174.2" fill="none" stroke="#c8a2f6" stroke-width="3.6" stroke-linejoin="round" stroke-linecap="round"/>
<path d="M374.1 174.2 L374.9 174.2 L375.6 174.3 L376.4 174.5 L377.2 174.8 L377.9 175.1 L378.7 175.5 L379.5 176.0 L380.2 176.5 L381.0 177.1 L381.8 177.7 L382.5 178.4 L383.3 179.2 L384.1 180.0 L384.8 180.8 L385.6 181.7 L386.3 182.6 L387.1 183.6 L387.9 184.6 L388.6 185.6 L389.4 186.6 L390.2 187.6 L390.9 188.7 L391.7 189.7 L392.5 190.8 L393.2 191.8 L394.0 192.8 L394.8 193.8 L395.5 194.8 L396.3 195.8 L397.1 196.7 L397.8 197.6 L398.6 198.4 L399.4 199.2 L400.1 200.0 L400.9 200.7 L401.7 201.3 L402.4 201.9 L403.2 202.4 L404.0 202.9 L404.7 203.3 L405.5 203.6 L406.3 203.9 L407.0 204.1 L407.8 204.2 L408.6 204.2 L409.3 204.2 L410.1 204.1 L410.8 203.9 L411.6 203.6 L412.4 203.3 L413.1 202.9 L413.9 202.4 L414.7 201.9 L415.4 201.3 L416.2 200.7 L417.0 200.0 L417.7 199.2 L418.5 198.4 L419.3 197.6 L420.0 196.7 L420.8 195.8 L421.6 194.8 L422.3 193.8 L423.1 192.8 L423.9 191.8 L424.6 190.8 L425.4 189.7 L426.2 188.7 L426.9 187.6 L427.7 186.6 L428.5 185.6 L429.2 184.6 L430.0 183.6 L430.8 182.6 L431.5 181.7 L432.3 180.8 L433.0 180.0 L433.8 179.2 L434.6 178.4 L435.3 177.7 L436.1 177.1 L436.9 176.5 L437.6 176.0 L438.4 175.5 L439.2 175.1 L439.9 174.8 L440.7 174.5 L441.5 174.3 L442.2 174.2 L443.0 174.2 L443.8 174.2 L444.5 174.3 L445.3 174.5 L446.1 174.8 L446.8 175.1 L447.6 175.5 L448.4 176.0 L449.1 176.5 L449.9 177.1 L450.7 177.7 L451.4 178.4 L452.2 179.2 L453.0 180.0 L453.7 180.8 L454.5 181.7 L455.2 182.6 L456.0 183.6 L456.8 184.6 L457.5 185.6 L458.3 186.6 L459.1 187.6 L459.8 188.7 L460.6 189.7 L461.4 190.8 L462.1 191.8 L462.9 192.8 L463.7 193.8 L464.4 194.8 L465.2 195.8 L466.0 196.7 L466.7 197.6 L467.5 198.4 L468.3 199.2 L469.0 200.0 L469.8 200.7 L470.6 201.3 L471.3 201.9 L472.1 202.4 L472.9 202.9 L473.6 203.3 L474.4 203.6 L475.2 203.9 L475.9 204.1 L476.7 204.2 L477.4 204.2 L478.2 204.2 L479.0 204.1 L479.7 203.9 L480.5 203.6 L481.3 203.3 L482.0 202.9 L482.8 202.4 L483.6 201.9 L484.3 201.3 L485.1 200.7 L485.9 200.0 L486.6 199.2 L487.4 198.4 L488.2 197.6 L488.9 196.7 L489.7 195.8 L490.5 194.8 L491.2 193.8 L492.0 192.8 L492.8 191.8 L493.5 190.8 L494.3 189.7 L495.1 188.7 L495.8 187.6 L496.6 186.6 L497.4 185.6 L498.1 184.6 L498.9 183.6 L499.7 182.6 L500.4 181.7 L501.2 180.8 L501.9 180.0 L502.7 179.2 L503.5 178.4 L504.2 177.7 L505.0 177.1 L505.8 176.5 L506.5 176.0 L507.3 175.5 L508.1 175.1 L508.8 174.8 L509.6 174.5 L510.4 174.3 L511.1 174.2 L511.9 174.2" fill="none" stroke="#000" stroke-width="1.5" stroke-dasharray="2.8 1.8"/>
<path d="M374.1 224.3 L374.9 224.3 L375.6 224.4 L376.4 224.6 L377.2 224.8 L377.9 225.1 L378.7 225.5 L379.5 225.9 L380.2 226.3 L381.0 226.9 L381.8 227.4 L382.5 228.1 L383.3 228.8 L384.1 229.5 L384.8 230.2 L385.6 231.0 L386.3 231.9 L387.1 232.7 L387.9 233.6 L388.6 234.5 L389.4 235.4 L390.2 236.3 L390.9 237.3 L391.7 238.2 L392.5 239.2 L393.2 240.1 L394.0 241.0 L394.8 241.9 L395.5 242.8 L396.3 243.6 L397.1 244.5 L397.8 245.3 L398.6 246.0 L399.4 246.7 L400.1 247.4 L400.9 248.1 L401.7 248.6 L402.4 249.2 L403.2 249.6 L404.0 250.0 L404.7 250.4 L405.5 250.7 L406.3 250.9 L407.0 251.1 L407.8 251.2 L408.6 251.2 L409.3 251.2 L410.1 251.1 L410.8 250.9 L411.6 250.7 L412.4 250.4 L413.1 250.0 L413.9 249.6 L414.7 249.2 L415.4 248.6 L416.2 248.1 L417.0 247.4 L417.7 246.7 L418.5 246.0 L419.3 245.3 L420.0 244.5 L420.8 243.6 L421.6 242.8 L422.3 241.9 L423.1 241.0 L423.9 240.1 L424.6 239.2 L425.4 238.2 L426.2 237.3 L426.9 236.3 L427.7 235.4 L428.5 234.5 L429.2 233.6 L430.0 232.7 L430.8 231.9 L431.5 231.0 L432.3 230.2 L433.0 229.5 L433.8 228.8 L434.6 228.1 L435.3 227.4 L436.1 226.9 L436.9 226.3 L437.6 225.9 L438.4 225.5 L439.2 225.1 L439.9 224.8 L440.7 224.6 L441.5 224.4 L442.2 224.3 L443.0 224.3 L443.8 224.3 L444.5 224.4 L445.3 224.6 L446.1 224.8 L446.8 225.1 L447.6 225.5 L448.4 225.9 L449.1 226.3 L449.9 226.9 L450.7 227.4 L451.4 228.1 L452.2 228.8 L453.0 229.5 L453.7 230.2 L454.5 231.0 L455.2 231.9 L456.0 232.7 L456.8 233.6 L457.5 234.5 L458.3 235.4 L459.1 236.3 L459.8 237.3 L460.6 238.2 L461.4 239.2 L462.1 240.1 L462.9 241.0 L463.7 241.9 L464.4 242.8 L465.2 243.6 L466.0 244.5 L466.7 245.3 L467.5 246.0 L468.3 246.7 L469.0 247.4 L469.8 248.1 L470.6 248.6 L471.3 249.2 L472.1 249.6 L472.9 250.0 L473.6 250.4 L474.4 250.7 L475.2 250.9 L475.9 251.1 L476.7 251.2 L477.4 251.2 L478.2 251.2 L479.0 251.1 L479.7 250.9 L480.5 250.7 L481.3 250.4 L482.0 250.0 L482.8 249.6 L483.6 249.2 L484.3 248.6 L485.1 248.1 L485.9 247.4 L486.6 246.7 L487.4 246.0 L488.2 245.3 L488.9 244.5 L489.7 243.6 L490.5 242.8 L491.2 241.9 L492.0 241.0 L492.8 240.1 L493.5 239.2 L494.3 238.2 L495.1 237.3 L495.8 236.3 L496.6 235.4 L497.4 234.5 L498.1 233.6 L498.9 232.7 L499.7 231.9 L500.4 231.0 L501.2 230.2 L501.9 229.5 L502.7 228.8 L503.5 228.1 L504.2 227.4 L505.0 226.9 L505.8 226.3 L506.5 225.9 L507.3 225.5 L508.1 225.1 L508.8 224.8 L509.6 224.6 L510.4 224.4 L511.1 224.3 L511.9 224.3" fill="none" stroke="#c9a6f5" stroke-width="3.6" stroke-linejoin="round" stroke-linecap="round"/>
<path d="M374.1 224.3 L374.9 224.3 L375.6 224.4 L376.4 224.6 L377.2 224.8 L377.9 225.1 L378.7 225.5 L379.5 225.9 L380.2 226.3 L381.0 226.9 L381.8 227.4 L382.5 228.1 L383.3 228.8 L384.1 229.5 L384.8 230.2 L385.6 231.0 L386.3 231.9 L387.1 232.7 L387.9 233.6 L388.6 234.5 L389.4 235.4 L390.2 236.3 L390.9 237.3 L391.7 238.2 L392.5 239.2 L393.2 240.1 L394.0 241.0 L394.8 241.9 L395.5 242.8 L396.3 243.6 L397.1 244.5 L397.8 245.3 L398.6 246.0 L399.4 246.7 L400.1 247.4 L400.9 248.1 L401.7 248.6 L402.4 249.2 L403.2 249.6 L404.0 250.0 L404.7 250.4 L405.5 250.7 L406.3 250.9 L407.0 251.1 L407.8 251.2 L408.6 251.2 L409.3 251.2 L410.1 251.1 L410.8 250.9 L411.6 250.7 L412.4 250.4 L413.1 250.0 L413.9 249.6 L414.7 249.2 L415.4 248.6 L416.2 248.1 L417.0 247.4 L417.7 246.7 L418.5 246.0 L419.3 245.3 L420.0 244.5 L420.8 243.6 L421.6 242.8 L422.3 241.9 L423.1 241.0 L423.9 240.1 L424.6 239.2 L425.4 238.2 L426.2 237.3 L426.9 236.3 L427.7 235.4 L428.5 234.5 L429.2 233.6 L430.0 232.7 L430.8 231.9 L431.5 231.0 L432.3 230.2 L433.0 229.5 L433.8 228.8 L434.6 228.1 L435.3 227.4 L436.1 226.9 L436.9 226.3 L437.6 225.9 L438.4 225.5 L439.2 225.1 L439.9 224.8 L440.7 224.6 L441.5 224.4 L442.2 224.3 L443.0 224.3 L443.8 224.3 L444.5 224.4 L445.3 224.6 L446.1 224.8 L446.8 225.1 L447.6 225.5 L448.4 225.9 L449.1 226.3 L449.9 226.9 L450.7 227.4 L451.4 228.1 L452.2 228.8 L453.0 229.5 L453.7 230.2 L454.5 231.0 L455.2 231.9 L456.0 232.7 L456.8 233.6 L457.5 234.5 L458.3 235.4 L459.1 236.3 L459.8 237.3 L460.6 238.2 L461.4 239.2 L462.1 240.1 L462.9 241.0 L463.7 241.9 L464.4 242.8 L465.2 243.6 L466.0 244.5 L466.7 245.3 L467.5 246.0 L468.3 246.7 L469.0 247.4 L469.8 248.1 L470.6 248.6 L471.3 249.2 L472.1 249.6 L472.9 250.0 L473.6 250.4 L474.4 250.7 L475.2 250.9 L475.9 251.1 L476.7 251.2 L477.4 251.2 L478.2 251.2 L479.0 251.1 L479.7 250.9 L480.5 250.7 L481.3 250.4 L482.0 250.0 L482.8 249.6 L483.6 249.2 L484.3 248.6 L485.1 248.1 L485.9 247.4 L486.6 246.7 L487.4 246.0 L488.2 245.3 L488.9 244.5 L489.7 243.6 L490.5 242.8 L491.2 241.9 L492.0 241.0 L492.8 240.1 L493.5 239.2 L494.3 238.2 L495.1 237.3 L495.8 236.3 L496.6 235.4 L497.4 234.5 L498.1 233.6 L498.9 232.7 L499.7 231.9 L500.4 231.0 L501.2 230.2 L501.9 229.5 L502.7 228.8 L503.5 228.1 L504.2 227.4 L505.0 226.9 L505.8 226.3 L506.5 225.9 L507.3 225.5 L508.1 225.1 L508.8 224.8 L509.6 224.6 L510.4 224.4 L511.1 224.3 L511.9 224.3" fill="none" stroke="#000" stroke-width="1.5" stroke-dasharray="2.8 1.8"/>
<rect x="374.1" y="15.8" width="137.8" height="49" fill="none" stroke="#8c8c8c" stroke-width="1.1"/>
<line x1="391.33" y1="64.8" x2="391.33" y2="63.5" stroke="#777" stroke-width="0.9"/>
<line x1="408.55" y1="64.8" x2="408.55" y2="62.2" stroke="#777" stroke-width="0.9"/>
<line x1="425.77" y1="64.8" x2="425.77" y2="63.5" stroke="#777" stroke-width="0.9"/>
<line x1="443" y1="64.8" x2="443" y2="62.2" stroke="#777" stroke-width="0.9"/>
<line x1="460.23" y1="64.8" x2="460.23" y2="63.5" stroke="#777" stroke-width="0.9"/>
<line x1="477.45" y1="64.8" x2="477.45" y2="62.2" stroke="#777" stroke-width="0.9"/>
<line x1="494.67" y1="64.8" x2="494.67" y2="63.5" stroke="#777" stroke-width="0.9"/>
<line x1="374.1" y1="24.9" x2="376.3" y2="24.9" stroke="#777" stroke-width="0.9"/>
<line x1="374.1" y1="55.6" x2="376.3" y2="55.6" stroke="#777" stroke-width="0.9"/>
<text x="371.2" y="29.2" font-size="12" text-anchor="end" font-weight="normal" font-style="normal" fill="#111" >500</text>
<text x="371.2" y="59.9" font-size="12" text-anchor="end" font-weight="normal" font-style="normal" fill="#111" >0</text>
<text x="443.3" y="51.6" font-size="12" text-anchor="middle" font-weight="normal" font-style="normal" fill="#111" >5 K</text>
<rect x="374.1" y="64.8" width="137.8" height="49.4" fill="none" stroke="#8c8c8c" stroke-width="1.1"/>
<line x1="391.33" y1="114.2" x2="391.33" y2="112.9" stroke="#777" stroke-width="0.9"/>
<line x1="408.55" y1="114.2" x2="408.55" y2="111.6" stroke="#777" stroke-width="0.9"/>
<line x1="425.77" y1="114.2" x2="425.77" y2="112.9" stroke="#777" stroke-width="0.9"/>
<line x1="443" y1="114.2" x2="443" y2="111.6" stroke="#777" stroke-width="0.9"/>
<line x1="460.23" y1="114.2" x2="460.23" y2="112.9" stroke="#777" stroke-width="0.9"/>
<line x1="477.45" y1="114.2" x2="477.45" y2="111.6" stroke="#777" stroke-width="0.9"/>
<line x1="494.67" y1="114.2" x2="494.67" y2="112.9" stroke="#777" stroke-width="0.9"/>
<line x1="374.1" y1="76.6" x2="376.3" y2="76.6" stroke="#777" stroke-width="0.9"/>
<line x1="374.1" y1="105" x2="376.3" y2="105" stroke="#777" stroke-width="0.9"/>
<text x="371.2" y="80.9" font-size="12" text-anchor="end" font-weight="normal" font-style="normal" fill="#111" >480</text>
<text x="371.2" y="109.3" font-size="12" text-anchor="end" font-weight="normal" font-style="normal" fill="#111" >0</text>
<text x="442.8" y="104.7" font-size="12" text-anchor="middle" font-weight="normal" font-style="normal" fill="#111" >10 K</text>
<rect x="374.1" y="114.2" width="137.8" height="48.8" fill="none" stroke="#8c8c8c" stroke-width="1.1"/>
<line x1="391.33" y1="163" x2="391.33" y2="161.7" stroke="#777" stroke-width="0.9"/>
<line x1="408.55" y1="163" x2="408.55" y2="160.4" stroke="#777" stroke-width="0.9"/>
<line x1="425.77" y1="163" x2="425.77" y2="161.7" stroke="#777" stroke-width="0.9"/>
<line x1="443" y1="163" x2="443" y2="160.4" stroke="#777" stroke-width="0.9"/>
<line x1="460.23" y1="163" x2="460.23" y2="161.7" stroke="#777" stroke-width="0.9"/>
<line x1="477.45" y1="163" x2="477.45" y2="160.4" stroke="#777" stroke-width="0.9"/>
<line x1="494.67" y1="163" x2="494.67" y2="161.7" stroke="#777" stroke-width="0.9"/>
<line x1="374.1" y1="125.1" x2="376.3" y2="125.1" stroke="#777" stroke-width="0.9"/>
<line x1="374.1" y1="155.1" x2="376.3" y2="155.1" stroke="#777" stroke-width="0.9"/>
<text x="371.2" y="129.4" font-size="12" text-anchor="end" font-weight="normal" font-style="normal" fill="#111" >350</text>
<text x="371.2" y="159.4" font-size="12" text-anchor="end" font-weight="normal" font-style="normal" fill="#111" >0</text>
<text x="443.5" y="152.6" font-size="12" text-anchor="middle" font-weight="normal" font-style="normal" fill="#111" >20 K</text>
<rect x="374.1" y="163" width="137.8" height="49.3" fill="none" stroke="#8c8c8c" stroke-width="1.1"/>
<line x1="391.33" y1="212.3" x2="391.33" y2="211" stroke="#777" stroke-width="0.9"/>
<line x1="408.55" y1="212.3" x2="408.55" y2="209.7" stroke="#777" stroke-width="0.9"/>
<line x1="425.77" y1="212.3" x2="425.77" y2="211" stroke="#777" stroke-width="0.9"/>
<line x1="443" y1="212.3" x2="443" y2="209.7" stroke="#777" stroke-width="0.9"/>
<line x1="460.23" y1="212.3" x2="460.23" y2="211" stroke="#777" stroke-width="0.9"/>
<line x1="477.45" y1="212.3" x2="477.45" y2="209.7" stroke="#777" stroke-width="0.9"/>
<line x1="494.67" y1="212.3" x2="494.67" y2="211" stroke="#777" stroke-width="0.9"/>
<line x1="374.1" y1="174.1" x2="376.3" y2="174.1" stroke="#777" stroke-width="0.9"/>
<line x1="374.1" y1="204.4" x2="376.3" y2="204.4" stroke="#777" stroke-width="0.9"/>
<text x="371.2" y="178.4" font-size="12" text-anchor="end" font-weight="normal" font-style="normal" fill="#111" >90</text>
<text x="371.2" y="208.7" font-size="12" text-anchor="end" font-weight="normal" font-style="normal" fill="#111" >0</text>
<text x="443.2" y="201.6" font-size="12" text-anchor="middle" font-weight="normal" font-style="normal" fill="#111" >50 K</text>
<rect x="374.1" y="212.3" width="137.8" height="48.7" fill="none" stroke="#8c8c8c" stroke-width="1.1"/>
<line x1="391.33" y1="261" x2="391.33" y2="259.7" stroke="#777" stroke-width="0.9"/>
<line x1="408.55" y1="261" x2="408.55" y2="258.4" stroke="#777" stroke-width="0.9"/>
<line x1="425.77" y1="261" x2="425.77" y2="259.7" stroke="#777" stroke-width="0.9"/>
<line x1="443" y1="261" x2="443" y2="258.4" stroke="#777" stroke-width="0.9"/>
<line x1="460.23" y1="261" x2="460.23" y2="259.7" stroke="#777" stroke-width="0.9"/>
<line x1="477.45" y1="261" x2="477.45" y2="258.4" stroke="#777" stroke-width="0.9"/>
<line x1="494.67" y1="261" x2="494.67" y2="259.7" stroke="#777" stroke-width="0.9"/>
<line x1="374.1" y1="224.3" x2="376.3" y2="224.3" stroke="#777" stroke-width="0.9"/>
<line x1="374.1" y1="251.7" x2="376.3" y2="251.7" stroke="#777" stroke-width="0.9"/>
<text x="371.2" y="228.6" font-size="12" text-anchor="end" font-weight="normal" font-style="normal" fill="#111" >30</text>
<text x="371.2" y="256" font-size="12" text-anchor="end" font-weight="normal" font-style="normal" fill="#111" >0</text>
<text x="443.8" y="253.3" font-size="12" text-anchor="middle" font-weight="normal" font-style="normal" fill="#111" >80 K</text>
<text x="374.1" y="273.7" font-size="12" text-anchor="middle" font-weight="normal" font-style="normal" fill="#111" >0</text>
<text x="408.55" y="273.7" font-size="12" text-anchor="middle" font-weight="normal" font-style="normal" fill="#111" >90</text>
<text x="443" y="273.7" font-size="12" text-anchor="middle" font-weight="normal" font-style="normal" fill="#111" >180</text>
<text x="477.45" y="273.7" font-size="12" text-anchor="middle" font-weight="normal" font-style="normal" fill="#111" >270</text>
<text x="511.9" y="273.7" font-size="12" text-anchor="middle" font-weight="normal" font-style="normal" fill="#111" >360</text>
<text x="443" y="285.2" font-size="12" text-anchor="middle" fill="#111"><tspan font-style="italic">&#946;</tspan><tspan dx="-0.6"> (°)</tspan></text>
</g>
<g>
<path d="M539.3 55.9 L540.1 55.9 L540.3 55.9 L540.8 55.9 L541.6 55.9 L542.3 55.8 L543.1 55.7 L543.9 55.5 L544.6 55.4 L545.4 55.2 L546.1 55.0 L546.9 54.7 L547.7 54.4 L548.4 54.1 L549.2 53.7 L550.0 53.3 L550.7 52.9 L551.5 52.5 L552.2 52.0 L553.0 51.5 L553.8 51.0 L554.5 50.4 L555.3 49.9 L556.0 49.2 L556.8 48.6 L557.6 48.0 L558.3 47.3 L559.1 46.6 L559.8 45.8 L560.6 45.1 L561.4 44.3 L562.1 43.5 L562.9 42.7 L563.7 41.8 L564.4 40.9 L565.2 40.1 L565.9 39.1 L566.7 38.2 L567.5 37.2 L568.2 36.2 L569.0 35.2 L569.7 34.2 L570.5 33.1 L571.3 31.9 L572.0 30.8 L572.8 29.5 L573.5 28.1 L574.3 26.5 L574.5 25.8 L575.1 26.5 L575.8 27.4 L576.6 28.4 L577.4 29.3 L578.1 30.3 L578.9 31.2 L579.6 32.1 L580.4 33.0 L581.2 33.9 L581.9 34.8 L582.7 35.6 L583.4 36.5 L584.2 37.3 L585.0 38.1 L585.7 38.9 L586.5 39.6 L587.2 40.4 L588.0 41.1 L588.8 41.8 L589.5 42.5 L590.3 43.1 L591.1 43.8 L591.8 44.4 L592.6 45.0 L593.3 45.5 L594.1 46.1 L594.9 46.6 L595.6 47.0 L596.4 47.5 L597.1 47.9 L597.9 48.4 L598.7 48.7 L599.4 49.1 L600.2 49.4 L600.9 49.7 L601.7 50.0 L602.5 50.2 L603.2 50.5 L604.0 50.6 L604.8 50.8 L605.5 50.9 L606.3 51.0 L607.0 51.1 L607.8 51.2 L608.6 51.2 L608.8 51.2 L609.3 51.2 L610.1 51.2 L610.8 51.1 L611.6 51.1 L612.4 51.0 L613.1 50.8 L613.9 50.7 L614.6 50.5 L615.4 50.4 L616.2 50.2 L616.9 49.9 L617.7 49.7 L618.5 49.4 L619.2 49.1 L620.0 48.8 L620.7 48.5 L621.5 48.1 L622.3 47.7 L623.0 47.3 L623.8 46.9 L624.5 46.4 L625.3 46.0 L626.1 45.5 L626.8 44.9 L627.6 44.4 L628.3 43.8 L629.1 43.2 L629.9 42.6 L630.6 41.9 L631.4 41.3 L632.2 40.6 L632.9 39.8 L633.7 39.1 L634.4 38.3 L635.2 37.5 L636.0 36.6 L636.7 35.7 L637.5 34.8 L638.2 33.9 L639.0 32.9 L639.8 31.8 L640.5 30.7 L641.3 29.5 L642.0 28.1 L642.8 26.5 L643.0 25.8 L643.6 26.5 L644.3 27.5 L645.1 28.4 L645.9 29.4 L646.6 30.4 L647.4 31.4 L648.1 32.4 L648.9 33.3 L649.7 34.3 L650.4 35.3 L651.2 36.2 L651.9 37.2 L652.7 38.1 L653.5 39.1 L654.2 40.0 L655.0 40.9 L655.8 41.8 L656.5 42.7 L657.3 43.5 L658.0 44.4 L658.8 45.2 L659.6 46.0 L660.3 46.8 L661.1 47.5 L661.8 48.2 L662.6 48.9 L663.4 49.6 L664.1 50.2 L664.9 50.8 L665.6 51.4 L666.4 52.0 L667.2 52.5 L667.9 53.0 L668.7 53.4 L669.4 53.8 L670.2 54.2 L671.0 54.6 L671.7 54.9 L672.5 55.1 L673.3 55.3 L674.0 55.5 L674.8 55.7 L675.5 55.8 L676.3 55.9" fill="none" stroke="#f0892c" stroke-width="2.8" stroke-linejoin="round" stroke-linecap="round"/>
<path d="M539.3 56.7 L540.1 56.8 L540.3 56.8 L540.8 56.8 L541.6 56.7 L542.3 56.5 L543.1 56.3 L543.9 55.9 L544.6 55.6 L545.4 55.1 L546.1 54.5 L546.9 53.9 L547.7 53.3 L548.4 52.6 L549.2 51.8 L550.0 50.9 L550.7 50.1 L551.5 49.2 L552.2 48.2 L553.0 47.2 L553.8 46.2 L554.5 45.2 L555.3 44.1 L556.0 43.0 L556.8 42.0 L557.6 40.9 L558.3 39.8 L559.1 38.8 L559.8 37.7 L560.6 36.7 L561.4 35.7 L562.1 34.7 L562.9 33.8 L563.7 32.9 L564.4 32.1 L565.2 31.3 L565.9 30.5 L566.7 29.8 L567.5 29.2 L568.2 28.6 L569.0 28.1 L569.7 27.6 L570.5 27.2 L571.3 26.9 L572.0 26.7 L572.8 26.5 L573.5 26.4 L574.3 26.3 L574.5 26.3 L575.1 26.3 L575.8 26.4 L576.6 26.5 L577.4 26.7 L578.1 27.0 L578.9 27.3 L579.6 27.7 L580.4 28.2 L581.2 28.7 L581.9 29.2 L582.7 29.8 L583.4 30.4 L584.2 31.1 L585.0 31.8 L585.7 32.6 L586.5 33.3 L587.2 34.1 L588.0 34.9 L588.8 35.7 L589.5 36.6 L590.3 37.4 L591.1 38.3 L591.8 39.1 L592.6 40.0 L593.3 40.8 L594.1 41.6 L594.9 42.4 L595.6 43.2 L596.4 44.0 L597.1 44.7 L597.9 45.4 L598.7 46.1 L599.4 46.7 L600.2 47.3 L600.9 47.9 L601.7 48.4 L602.5 48.8 L603.2 49.2 L604.0 49.6 L604.8 49.9 L605.5 50.2 L606.3 50.4 L607.0 50.6 L607.8 50.7 L608.6 50.7 L608.8 50.7 L609.3 50.7 L610.1 50.6 L610.8 50.5 L611.6 50.3 L612.4 50.1 L613.1 49.8 L613.9 49.5 L614.6 49.1 L615.4 48.6 L616.2 48.2 L616.9 47.6 L617.7 47.1 L618.5 46.5 L619.2 45.8 L620.0 45.1 L620.7 44.4 L621.5 43.7 L622.3 42.9 L623.0 42.1 L623.8 41.3 L624.5 40.5 L625.3 39.6 L626.1 38.8 L626.8 37.9 L627.6 37.1 L628.3 36.2 L629.1 35.4 L629.9 34.6 L630.6 33.8 L631.4 33.0 L632.2 32.3 L632.9 31.5 L633.7 30.8 L634.4 30.2 L635.2 29.6 L636.0 29.0 L636.7 28.5 L637.5 28.0 L638.2 27.6 L639.0 27.2 L639.8 26.9 L640.5 26.7 L641.3 26.5 L642.0 26.4 L642.8 26.3 L643.0 26.3 L643.6 26.3 L644.3 26.4 L645.1 26.5 L645.9 26.8 L646.6 27.0 L647.4 27.4 L648.1 27.8 L648.9 28.3 L649.7 28.8 L650.4 29.4 L651.2 30.1 L651.9 30.8 L652.7 31.6 L653.5 32.4 L654.2 33.3 L655.0 34.2 L655.8 35.1 L656.5 36.1 L657.3 37.1 L658.0 38.1 L658.8 39.2 L659.6 40.2 L660.3 41.3 L661.1 42.4 L661.8 43.5 L662.6 44.5 L663.4 45.6 L664.1 46.6 L664.9 47.6 L665.6 48.6 L666.4 49.5 L667.2 50.4 L667.9 51.3 L668.7 52.1 L669.4 52.9 L670.2 53.6 L671.0 54.2 L671.7 54.8 L672.5 55.3 L673.3 55.7 L674.0 56.1 L674.8 56.4 L675.5 56.6 L676.3 56.7" fill="none" stroke="#000" stroke-width="1.5" stroke-dasharray="2.6 2.3"/>
<path d="M539.3 105.9 L540.1 105.9 L540.3 105.9 L540.8 105.9 L541.6 105.9 L542.3 105.8 L543.1 105.7 L543.9 105.5 L544.6 105.4 L545.4 105.2 L546.1 104.9 L546.9 104.7 L547.7 104.4 L548.4 104.0 L549.2 103.7 L550.0 103.3 L550.7 102.9 L551.5 102.4 L552.2 101.9 L553.0 101.4 L553.8 100.9 L554.5 100.3 L555.3 99.7 L556.0 99.1 L556.8 98.4 L557.6 97.8 L558.3 97.1 L559.1 96.3 L559.8 95.6 L560.6 94.8 L561.4 94.0 L562.1 93.2 L562.9 92.4 L563.7 91.5 L564.4 90.6 L565.2 89.7 L565.9 88.8 L566.7 87.8 L567.5 86.8 L568.2 85.8 L569.0 84.8 L569.7 83.7 L570.5 82.6 L571.3 81.4 L572.0 80.2 L572.8 79.0 L573.5 77.6 L574.3 75.9 L574.5 75.2 L575.1 75.9 L575.8 76.9 L576.6 77.8 L577.4 78.8 L578.1 79.7 L578.9 80.7 L579.6 81.6 L580.4 82.5 L581.2 83.4 L581.9 84.3 L582.7 85.1 L583.4 86.0 L584.2 86.8 L585.0 87.6 L585.7 88.4 L586.5 89.2 L587.2 89.9 L588.0 90.7 L588.8 91.4 L589.5 92.0 L590.3 92.7 L591.1 93.3 L591.8 94.0 L592.6 94.5 L593.3 95.1 L594.1 95.6 L594.9 96.2 L595.6 96.6 L596.4 97.1 L597.1 97.5 L597.9 97.9 L598.7 98.3 L599.4 98.7 L600.2 99.0 L600.9 99.3 L601.7 99.6 L602.5 99.8 L603.2 100.1 L604.0 100.2 L604.8 100.4 L605.5 100.5 L606.3 100.6 L607.0 100.7 L607.8 100.8 L608.6 100.8 L608.8 100.8 L609.3 100.8 L610.1 100.8 L610.8 100.7 L611.6 100.7 L612.4 100.6 L613.1 100.4 L613.9 100.3 L614.6 100.2 L615.4 100.0 L616.2 99.8 L616.9 99.5 L617.7 99.3 L618.5 99.0 L619.2 98.7 L620.0 98.4 L620.7 98.1 L621.5 97.7 L622.3 97.3 L623.0 96.9 L623.8 96.5 L624.5 96.0 L625.3 95.6 L626.1 95.1 L626.8 94.5 L627.6 94.0 L628.3 93.4 L629.1 92.8 L629.9 92.2 L630.6 91.5 L631.4 90.8 L632.2 90.1 L632.9 89.4 L633.7 88.6 L634.4 87.8 L635.2 87.0 L636.0 86.2 L636.7 85.3 L637.5 84.3 L638.2 83.4 L639.0 82.3 L639.8 81.3 L640.5 80.1 L641.3 78.9 L642.0 77.6 L642.8 75.9 L643.0 75.2 L643.6 75.9 L644.3 76.9 L645.1 77.9 L645.9 78.9 L646.6 79.9 L647.4 80.9 L648.1 81.9 L648.9 82.9 L649.7 83.8 L650.4 84.8 L651.2 85.8 L651.9 86.8 L652.7 87.7 L653.5 88.7 L654.2 89.6 L655.0 90.6 L655.8 91.5 L656.5 92.4 L657.3 93.2 L658.0 94.1 L658.8 94.9 L659.6 95.7 L660.3 96.5 L661.1 97.3 L661.8 98.0 L662.6 98.8 L663.4 99.4 L664.1 100.1 L664.9 100.7 L665.6 101.3 L666.4 101.9 L667.2 102.4 L667.9 102.9 L668.7 103.4 L669.4 103.8 L670.2 104.2 L671.0 104.5 L671.7 104.8 L672.5 105.1 L673.3 105.3 L674.0 105.5 L674.8 105.7 L675.5 105.8 L676.3 105.9" fill="none" stroke="#f4a266" stroke-width="2.8" stroke-linejoin="round" stroke-linecap="round"/>
<path d="M539.3 106.8 L540.1 106.9 L540.3 106.9 L540.8 106.9 L541.6 106.8 L542.3 106.6 L543.1 106.4 L543.9 106.0 L544.6 105.6 L545.4 105.2 L546.1 104.6 L546.9 104.0 L547.7 103.4 L548.4 102.6 L549.2 101.8 L550.0 101.0 L550.7 100.1 L551.5 99.2 L552.2 98.2 L553.0 97.2 L553.8 96.2 L554.5 95.1 L555.3 94.1 L556.0 93.0 L556.8 91.9 L557.6 90.8 L558.3 89.8 L559.1 88.7 L559.8 87.6 L560.6 86.6 L561.4 85.6 L562.1 84.6 L562.9 83.7 L563.7 82.8 L564.4 81.9 L565.2 81.1 L565.9 80.3 L566.7 79.6 L567.5 79.0 L568.2 78.4 L569.0 77.8 L569.7 77.4 L570.5 77.0 L571.3 76.6 L572.0 76.4 L572.8 76.2 L573.5 76.1 L574.3 76.0 L574.5 76.0 L575.1 76.0 L575.8 76.1 L576.6 76.2 L577.4 76.5 L578.1 76.7 L578.9 77.1 L579.6 77.5 L580.4 77.9 L581.2 78.4 L581.9 79.0 L582.7 79.6 L583.4 80.3 L584.2 81.0 L585.0 81.7 L585.7 82.5 L586.5 83.3 L587.2 84.1 L588.0 84.9 L588.8 85.8 L589.5 86.6 L590.3 87.5 L591.1 88.4 L591.8 89.3 L592.6 90.2 L593.3 91.0 L594.1 91.9 L594.9 92.7 L595.6 93.5 L596.4 94.3 L597.1 95.1 L597.9 95.8 L598.7 96.5 L599.4 97.2 L600.2 97.8 L600.9 98.4 L601.7 98.9 L602.5 99.4 L603.2 99.9 L604.0 100.3 L604.8 100.6 L605.5 100.9 L606.3 101.1 L607.0 101.2 L607.8 101.4 L608.6 101.4 L608.8 101.4 L609.3 101.4 L610.1 101.3 L610.8 101.2 L611.6 101.0 L612.4 100.8 L613.1 100.5 L613.9 100.1 L614.6 99.7 L615.4 99.2 L616.2 98.7 L616.9 98.2 L617.7 97.6 L618.5 96.9 L619.2 96.3 L620.0 95.5 L620.7 94.8 L621.5 94.0 L622.3 93.2 L623.0 92.4 L623.8 91.5 L624.5 90.7 L625.3 89.8 L626.1 88.9 L626.8 88.0 L627.6 87.2 L628.3 86.3 L629.1 85.4 L629.9 84.6 L630.6 83.7 L631.4 82.9 L632.2 82.1 L632.9 81.4 L633.7 80.7 L634.4 80.0 L635.2 79.4 L636.0 78.8 L636.7 78.2 L637.5 77.7 L638.2 77.3 L639.0 76.9 L639.8 76.6 L640.5 76.4 L641.3 76.2 L642.0 76.1 L642.8 76.0 L643.0 76.0 L643.6 76.0 L644.3 76.1 L645.1 76.3 L645.9 76.5 L646.6 76.8 L647.4 77.1 L648.1 77.5 L648.9 78.0 L649.7 78.6 L650.4 79.2 L651.2 79.9 L651.9 80.6 L652.7 81.4 L653.5 82.2 L654.2 83.1 L655.0 84.0 L655.8 85.0 L656.5 86.0 L657.3 87.0 L658.0 88.0 L658.8 89.1 L659.6 90.2 L660.3 91.3 L661.1 92.3 L661.8 93.4 L662.6 94.5 L663.4 95.6 L664.1 96.6 L664.9 97.6 L665.6 98.6 L666.4 99.6 L667.2 100.5 L667.9 101.3 L668.7 102.2 L669.4 102.9 L670.2 103.6 L671.0 104.3 L671.7 104.9 L672.5 105.4 L673.3 105.8 L674.0 106.2 L674.8 106.5 L675.5 106.7 L676.3 106.8" fill="none" stroke="#000" stroke-width="1.5" stroke-dasharray="2.6 2.3"/>
<path d="M539.3 153.6 L540.1 153.6 L540.3 153.6 L540.8 153.6 L541.6 153.6 L542.3 153.5 L543.1 153.4 L543.9 153.2 L544.6 153.1 L545.4 152.9 L546.1 152.7 L546.9 152.4 L547.7 152.1 L548.4 151.8 L549.2 151.4 L550.0 151.1 L550.7 150.6 L551.5 150.2 L552.2 149.7 L553.0 149.2 L553.8 148.7 L554.5 148.2 L555.3 147.6 L556.0 147.0 L556.8 146.4 L557.6 145.7 L558.3 145.0 L559.1 144.3 L559.8 143.6 L560.6 142.8 L561.4 142.1 L562.1 141.3 L562.9 140.5 L563.7 139.6 L564.4 138.8 L565.2 137.9 L565.9 137.0 L566.7 136.0 L567.5 135.1 L568.2 134.1 L569.0 133.1 L569.7 132.0 L570.5 131.0 L571.3 129.9 L572.0 128.7 L572.8 127.5 L573.5 126.1 L574.3 124.5 L574.5 123.8 L575.1 124.5 L575.8 125.4 L576.6 126.4 L577.4 127.3 L578.1 128.2 L578.9 129.1 L579.6 130.0 L580.4 130.9 L581.2 131.8 L581.9 132.6 L582.7 133.5 L583.4 134.3 L584.2 135.1 L585.0 135.9 L585.7 136.6 L586.5 137.4 L587.2 138.1 L588.0 138.8 L588.8 139.5 L589.5 140.2 L590.3 140.8 L591.1 141.4 L591.8 142.0 L592.6 142.6 L593.3 143.2 L594.1 143.7 L594.9 144.2 L595.6 144.7 L596.4 145.1 L597.1 145.5 L597.9 145.9 L598.7 146.3 L599.4 146.6 L600.2 147.0 L600.9 147.3 L601.7 147.5 L602.5 147.8 L603.2 148.0 L604.0 148.2 L604.8 148.3 L605.5 148.4 L606.3 148.6 L607.0 148.6 L607.8 148.7 L608.6 148.7 L608.8 148.7 L609.3 148.7 L610.1 148.7 L610.8 148.6 L611.6 148.6 L612.4 148.5 L613.1 148.4 L613.9 148.2 L614.6 148.1 L615.4 147.9 L616.2 147.7 L616.9 147.5 L617.7 147.2 L618.5 147.0 L619.2 146.7 L620.0 146.4 L620.7 146.1 L621.5 145.7 L622.3 145.3 L623.0 144.9 L623.8 144.5 L624.5 144.1 L625.3 143.6 L626.1 143.1 L626.8 142.6 L627.6 142.1 L628.3 141.5 L629.1 140.9 L629.9 140.3 L630.6 139.7 L631.4 139.0 L632.2 138.3 L632.9 137.6 L633.7 136.9 L634.4 136.1 L635.2 135.3 L636.0 134.5 L636.7 133.6 L637.5 132.7 L638.2 131.7 L639.0 130.7 L639.8 129.7 L640.5 128.6 L641.3 127.4 L642.0 126.1 L642.8 124.5 L643.0 123.8 L643.6 124.5 L644.3 125.4 L645.1 126.4 L645.9 127.4 L646.6 128.3 L647.4 129.3 L648.1 130.3 L648.9 131.2 L649.7 132.2 L650.4 133.2 L651.2 134.1 L651.9 135.0 L652.7 136.0 L653.5 136.9 L654.2 137.8 L655.0 138.7 L655.8 139.6 L656.5 140.5 L657.3 141.3 L658.0 142.1 L658.8 143.0 L659.6 143.7 L660.3 144.5 L661.1 145.3 L661.8 146.0 L662.6 146.7 L663.4 147.3 L664.1 148.0 L664.9 148.6 L665.6 149.2 L666.4 149.7 L667.2 150.2 L667.9 150.7 L668.7 151.1 L669.4 151.5 L670.2 151.9 L671.0 152.3 L671.7 152.6 L672.5 152.8 L673.3 153.1 L674.0 153.2 L674.8 153.4 L675.5 153.5 L676.3 153.6" fill="none" stroke="#f6bb8e" stroke-width="2.8" stroke-linejoin="round" stroke-linecap="round"/>
<path d="M539.3 154.1 L540.1 154.2 L540.3 154.2 L540.8 154.2 L541.6 154.1 L542.3 153.9 L543.1 153.7 L543.9 153.4 L544.6 153.0 L545.4 152.5 L546.1 152.0 L546.9 151.4 L547.7 150.8 L548.4 150.1 L549.2 149.3 L550.0 148.5 L550.7 147.7 L551.5 146.8 L552.2 145.8 L553.0 144.9 L553.8 143.9 L554.5 142.9 L555.3 141.8 L556.0 140.8 L556.8 139.8 L557.6 138.7 L558.3 137.7 L559.1 136.6 L559.8 135.6 L560.6 134.6 L561.4 133.6 L562.1 132.7 L562.9 131.8 L563.7 130.9 L564.4 130.1 L565.2 129.3 L565.9 128.6 L566.7 127.9 L567.5 127.3 L568.2 126.7 L569.0 126.2 L569.7 125.7 L570.5 125.3 L571.3 125.0 L572.0 124.8 L572.8 124.6 L573.5 124.5 L574.3 124.4 L574.5 124.4 L575.1 124.4 L575.8 124.5 L576.6 124.6 L577.4 124.8 L578.1 125.1 L578.9 125.4 L579.6 125.8 L580.4 126.3 L581.2 126.8 L581.9 127.3 L582.7 127.9 L583.4 128.5 L584.2 129.2 L585.0 129.9 L585.7 130.6 L586.5 131.4 L587.2 132.2 L588.0 133.0 L588.8 133.9 L589.5 134.7 L590.3 135.5 L591.1 136.4 L591.8 137.3 L592.6 138.1 L593.3 138.9 L594.1 139.8 L594.9 140.6 L595.6 141.4 L596.4 142.1 L597.1 142.9 L597.9 143.6 L598.7 144.3 L599.4 144.9 L600.2 145.5 L600.9 146.1 L601.7 146.6 L602.5 147.1 L603.2 147.5 L604.0 147.9 L604.8 148.2 L605.5 148.5 L606.3 148.7 L607.0 148.9 L607.8 149.0 L608.6 149.0 L608.8 149.0 L609.3 149.0 L610.1 148.9 L610.8 148.8 L611.6 148.6 L612.4 148.4 L613.1 148.1 L613.9 147.7 L614.6 147.4 L615.4 146.9 L616.2 146.4 L616.9 145.9 L617.7 145.3 L618.5 144.7 L619.2 144.0 L620.0 143.3 L620.7 142.6 L621.5 141.8 L622.3 141.1 L623.0 140.3 L623.8 139.4 L624.5 138.6 L625.3 137.8 L626.1 136.9 L626.8 136.1 L627.6 135.2 L628.3 134.4 L629.1 133.5 L629.9 132.7 L630.6 131.9 L631.4 131.1 L632.2 130.3 L632.9 129.6 L633.7 128.9 L634.4 128.3 L635.2 127.7 L636.0 127.1 L636.7 126.6 L637.5 126.1 L638.2 125.7 L639.0 125.3 L639.8 125.0 L640.5 124.8 L641.3 124.6 L642.0 124.5 L642.8 124.4 L643.0 124.4 L643.6 124.4 L644.3 124.5 L645.1 124.6 L645.9 124.9 L646.6 125.1 L647.4 125.5 L648.1 125.9 L648.9 126.4 L649.7 126.9 L650.4 127.5 L651.2 128.1 L651.9 128.9 L652.7 129.6 L653.5 130.4 L654.2 131.3 L655.0 132.2 L655.8 133.1 L656.5 134.0 L657.3 135.0 L658.0 136.0 L658.8 137.0 L659.6 138.1 L660.3 139.1 L661.1 140.2 L661.8 141.2 L662.6 142.3 L663.4 143.3 L664.1 144.3 L664.9 145.3 L665.6 146.2 L666.4 147.1 L667.2 148.0 L667.9 148.8 L668.7 149.6 L669.4 150.4 L670.2 151.0 L671.0 151.7 L671.7 152.2 L672.5 152.7 L673.3 153.1 L674.0 153.5 L674.8 153.8 L675.5 154.0 L676.3 154.1" fill="none" stroke="#000" stroke-width="1.5" stroke-dasharray="2.6 2.3"/>
<path d="M539.3 199.8 L540.1 199.8 L540.3 199.8 L540.8 199.8 L541.6 199.8 L542.3 199.7 L543.1 199.6 L543.9 199.5 L544.6 199.3 L545.4 199.1 L546.1 198.9 L546.9 198.7 L547.7 198.4 L548.4 198.1 L549.2 197.8 L550.0 197.5 L550.7 197.1 L551.5 196.7 L552.2 196.3 L553.0 195.9 L553.8 195.4 L554.5 194.9 L555.3 194.4 L556.0 193.8 L556.8 193.3 L557.6 192.7 L558.3 192.1 L559.1 191.5 L559.8 190.9 L560.6 190.2 L561.4 189.5 L562.1 188.8 L562.9 188.1 L563.7 187.4 L564.4 186.7 L565.2 185.9 L565.9 185.2 L566.7 184.4 L567.5 183.6 L568.2 182.8 L569.0 182.0 L569.7 181.1 L570.5 180.3 L571.3 179.4 L572.0 178.5 L572.8 177.5 L573.5 176.5 L574.3 175.4 L574.5 174.9 L575.1 175.3 L575.8 176.0 L576.6 176.7 L577.4 177.4 L578.1 178.1 L578.9 178.8 L579.6 179.5 L580.4 180.2 L581.2 180.9 L581.9 181.5 L582.7 182.2 L583.4 182.8 L584.2 183.5 L585.0 184.1 L585.7 184.7 L586.5 185.3 L587.2 185.8 L588.0 186.4 L588.8 186.9 L589.5 187.5 L590.3 188.0 L591.1 188.4 L591.8 188.9 L592.6 189.4 L593.3 189.8 L594.1 190.2 L594.9 190.6 L595.6 191.0 L596.4 191.3 L597.1 191.6 L597.9 192.0 L598.7 192.2 L599.4 192.5 L600.2 192.8 L600.9 193.0 L601.7 193.2 L602.5 193.4 L603.2 193.5 L604.0 193.7 L604.8 193.8 L605.5 193.9 L606.3 194.0 L607.0 194.0 L607.8 194.1 L608.6 194.1 L608.8 194.1 L609.3 194.1 L610.1 194.1 L610.8 194.0 L611.6 194.0 L612.4 193.9 L613.1 193.8 L613.9 193.7 L614.6 193.6 L615.4 193.5 L616.2 193.3 L616.9 193.2 L617.7 193.0 L618.5 192.8 L619.2 192.5 L620.0 192.3 L620.7 192.0 L621.5 191.8 L622.3 191.5 L623.0 191.2 L623.8 190.8 L624.5 190.5 L625.3 190.1 L626.1 189.7 L626.8 189.3 L627.6 188.9 L628.3 188.5 L629.1 188.0 L629.9 187.5 L630.6 187.0 L631.4 186.5 L632.2 186.0 L632.9 185.4 L633.7 184.8 L634.4 184.2 L635.2 183.6 L636.0 182.9 L636.7 182.2 L637.5 181.5 L638.2 180.8 L639.0 180.0 L639.8 179.2 L640.5 178.4 L641.3 177.5 L642.0 176.5 L642.8 175.4 L643.0 174.9 L643.6 175.3 L644.3 176.0 L645.1 176.8 L645.9 177.5 L646.6 178.3 L647.4 179.0 L648.1 179.8 L648.9 180.6 L649.7 181.3 L650.4 182.1 L651.2 182.9 L651.9 183.7 L652.7 184.5 L653.5 185.2 L654.2 186.0 L655.0 186.8 L655.8 187.5 L656.5 188.3 L657.3 189.0 L658.0 189.7 L658.8 190.4 L659.6 191.1 L660.3 191.8 L661.1 192.4 L661.8 193.0 L662.6 193.6 L663.4 194.2 L664.1 194.8 L664.9 195.3 L665.6 195.8 L666.4 196.3 L667.2 196.8 L667.9 197.2 L668.7 197.6 L669.4 198.0 L670.2 198.3 L671.0 198.6 L671.7 198.9 L672.5 199.1 L673.3 199.3 L674.0 199.5 L674.8 199.6 L675.5 199.7 L676.3 199.8" fill="none" stroke="#f8d2b4" stroke-width="2.8" stroke-linejoin="round" stroke-linecap="round"/>
<path d="M539.3 200.1 L540.1 200.2 L540.3 200.2 L540.8 200.2 L541.6 200.1 L542.3 200.0 L543.1 199.8 L543.9 199.5 L544.6 199.2 L545.4 198.8 L546.1 198.3 L546.9 197.8 L547.7 197.3 L548.4 196.7 L549.2 196.1 L550.0 195.4 L550.7 194.7 L551.5 193.9 L552.2 193.1 L553.0 192.3 L553.8 191.5 L554.5 190.6 L555.3 189.8 L556.0 188.9 L556.8 188.0 L557.6 187.1 L558.3 186.3 L559.1 185.4 L559.8 184.5 L560.6 183.7 L561.4 182.9 L562.1 182.1 L562.9 181.4 L563.7 180.6 L564.4 180.0 L565.2 179.3 L565.9 178.7 L566.7 178.1 L567.5 177.6 L568.2 177.2 L569.0 176.7 L569.7 176.4 L570.5 176.1 L571.3 175.8 L572.0 175.6 L572.8 175.4 L573.5 175.3 L574.3 175.3 L574.5 175.3 L575.1 175.3 L575.8 175.4 L576.6 175.5 L577.4 175.7 L578.1 175.9 L578.9 176.1 L579.6 176.4 L580.4 176.8 L581.2 177.2 L581.9 177.6 L582.7 178.1 L583.4 178.6 L584.2 179.1 L585.0 179.6 L585.7 180.2 L586.5 180.8 L587.2 181.4 L588.0 182.0 L588.8 182.7 L589.5 183.3 L590.3 184.0 L591.1 184.6 L591.8 185.3 L592.6 185.9 L593.3 186.6 L594.1 187.2 L594.9 187.8 L595.6 188.4 L596.4 189.0 L597.1 189.5 L597.9 190.1 L598.7 190.6 L599.4 191.1 L600.2 191.5 L600.9 191.9 L601.7 192.3 L602.5 192.7 L603.2 193.0 L604.0 193.3 L604.8 193.5 L605.5 193.7 L606.3 193.9 L607.0 194.0 L607.8 194.1 L608.6 194.1 L608.8 194.1 L609.3 194.1 L610.1 194.0 L610.8 193.9 L611.6 193.8 L612.4 193.6 L613.1 193.4 L613.9 193.2 L614.6 192.9 L615.4 192.5 L616.2 192.2 L616.9 191.8 L617.7 191.3 L618.5 190.9 L619.2 190.4 L620.0 189.9 L620.7 189.3 L621.5 188.8 L622.3 188.2 L623.0 187.6 L623.8 186.9 L624.5 186.3 L625.3 185.7 L626.1 185.0 L626.8 184.4 L627.6 183.7 L628.3 183.1 L629.1 182.4 L629.9 181.8 L630.6 181.2 L631.4 180.6 L632.2 180.0 L632.9 179.4 L633.7 178.9 L634.4 178.4 L635.2 177.9 L636.0 177.4 L636.7 177.0 L637.5 176.6 L638.2 176.3 L639.0 176.0 L639.8 175.8 L640.5 175.6 L641.3 175.4 L642.0 175.3 L642.8 175.3 L643.0 175.3 L643.6 175.3 L644.3 175.4 L645.1 175.5 L645.9 175.7 L646.6 175.9 L647.4 176.2 L648.1 176.5 L648.9 176.9 L649.7 177.3 L650.4 177.8 L651.2 178.4 L651.9 178.9 L652.7 179.6 L653.5 180.2 L654.2 180.9 L655.0 181.7 L655.8 182.4 L656.5 183.2 L657.3 184.0 L658.0 184.9 L658.8 185.7 L659.6 186.6 L660.3 187.5 L661.1 188.4 L661.8 189.2 L662.6 190.1 L663.4 191.0 L664.1 191.8 L664.9 192.6 L665.6 193.4 L666.4 194.2 L667.2 194.9 L667.9 195.7 L668.7 196.3 L669.4 196.9 L670.2 197.5 L671.0 198.1 L671.7 198.5 L672.5 198.9 L673.3 199.3 L674.0 199.6 L674.8 199.9 L675.5 200.0 L676.3 200.1" fill="none" stroke="#000" stroke-width="1.5" stroke-dasharray="2.6 2.3"/>
<path d="M539.3 249.4 L540.1 249.4 L540.3 249.4 L540.8 249.4 L541.6 249.4 L542.3 249.3 L543.1 249.2 L543.9 249.1 L544.6 249.0 L545.4 248.8 L546.1 248.6 L546.9 248.4 L547.7 248.1 L548.4 247.8 L549.2 247.5 L550.0 247.2 L550.7 246.9 L551.5 246.5 L552.2 246.1 L553.0 245.7 L553.8 245.3 L554.5 244.8 L555.3 244.3 L556.0 243.9 L556.8 243.3 L557.6 242.8 L558.3 242.3 L559.1 241.7 L559.8 241.1 L560.6 240.5 L561.4 239.9 L562.1 239.3 L562.9 238.7 L563.7 238.1 L564.4 237.4 L565.2 236.8 L565.9 236.1 L566.7 235.4 L567.5 234.8 L568.2 234.1 L569.0 233.4 L569.7 232.7 L570.5 232.0 L571.3 231.3 L572.0 230.5 L572.8 229.8 L573.5 229.0 L574.3 228.2 L574.5 227.9 L575.1 228.2 L575.8 228.7 L576.6 229.2 L577.4 229.8 L578.1 230.3 L578.9 230.8 L579.6 231.4 L580.4 231.9 L581.2 232.4 L581.9 233.0 L582.7 233.5 L583.4 234.0 L584.2 234.5 L585.0 235.0 L585.7 235.4 L586.5 235.9 L587.2 236.4 L588.0 236.8 L588.8 237.2 L589.5 237.6 L590.3 238.0 L591.1 238.4 L591.8 238.8 L592.6 239.1 L593.3 239.4 L594.1 239.7 L594.9 240.0 L595.6 240.3 L596.4 240.6 L597.1 240.8 L597.9 241.1 L598.7 241.3 L599.4 241.5 L600.2 241.7 L600.9 241.9 L601.7 242.0 L602.5 242.2 L603.2 242.3 L604.0 242.4 L604.8 242.5 L605.5 242.6 L606.3 242.6 L607.0 242.7 L607.8 242.7 L608.6 242.7 L608.8 242.7 L609.3 242.7 L610.1 242.7 L610.8 242.7 L611.6 242.6 L612.4 242.6 L613.1 242.5 L613.9 242.4 L614.6 242.3 L615.4 242.2 L616.2 242.1 L616.9 242.0 L617.7 241.9 L618.5 241.7 L619.2 241.5 L620.0 241.4 L620.7 241.2 L621.5 241.0 L622.3 240.7 L623.0 240.5 L623.8 240.2 L624.5 240.0 L625.3 239.7 L626.1 239.4 L626.8 239.1 L627.6 238.7 L628.3 238.4 L629.1 238.0 L629.9 237.7 L630.6 237.3 L631.4 236.9 L632.2 236.4 L632.9 236.0 L633.7 235.5 L634.4 235.0 L635.2 234.5 L636.0 234.0 L636.7 233.5 L637.5 232.9 L638.2 232.3 L639.0 231.7 L639.8 231.1 L640.5 230.4 L641.3 229.7 L642.0 229.0 L642.8 228.2 L643.0 227.9 L643.6 228.2 L644.3 228.7 L645.1 229.3 L645.9 229.8 L646.6 230.4 L647.4 231.1 L648.1 231.7 L648.9 232.3 L649.7 233.0 L650.4 233.6 L651.2 234.3 L651.9 235.0 L652.7 235.6 L653.5 236.3 L654.2 236.9 L655.0 237.6 L655.8 238.3 L656.5 238.9 L657.3 239.6 L658.0 240.2 L658.8 240.8 L659.6 241.4 L660.3 242.0 L661.1 242.6 L661.8 243.2 L662.6 243.7 L663.4 244.3 L664.1 244.8 L664.9 245.3 L665.6 245.7 L666.4 246.2 L667.2 246.6 L667.9 247.0 L668.7 247.4 L669.4 247.7 L670.2 248.0 L671.0 248.3 L671.7 248.5 L672.5 248.8 L673.3 248.9 L674.0 249.1 L674.8 249.2 L675.5 249.3 L676.3 249.4" fill="none" stroke="#f3dc9e" stroke-width="2.8" stroke-linejoin="round" stroke-linecap="round"/>
<path d="M539.3 249.6 L540.1 249.6 L540.3 249.6 L540.8 249.6 L541.6 249.5 L542.3 249.4 L543.1 249.2 L543.9 249.0 L544.6 248.7 L545.4 248.4 L546.1 248.0 L546.9 247.6 L547.7 247.1 L548.4 246.6 L549.2 246.0 L550.0 245.4 L550.7 244.8 L551.5 244.1 L552.2 243.4 L553.0 242.7 L553.8 242.0 L554.5 241.3 L555.3 240.6 L556.0 239.8 L556.8 239.0 L557.6 238.3 L558.3 237.5 L559.1 236.8 L559.8 236.1 L560.6 235.4 L561.4 234.7 L562.1 234.0 L562.9 233.4 L563.7 232.8 L564.4 232.2 L565.2 231.6 L565.9 231.1 L566.7 230.7 L567.5 230.2 L568.2 229.8 L569.0 229.5 L569.7 229.2 L570.5 228.9 L571.3 228.7 L572.0 228.5 L572.8 228.4 L573.5 228.3 L574.3 228.3 L574.5 228.3 L575.1 228.3 L575.8 228.4 L576.6 228.5 L577.4 228.6 L578.1 228.8 L578.9 229.0 L579.6 229.2 L580.4 229.5 L581.2 229.8 L581.9 230.1 L582.7 230.5 L583.4 230.9 L584.2 231.3 L585.0 231.7 L585.7 232.2 L586.5 232.7 L587.2 233.1 L588.0 233.6 L588.8 234.1 L589.5 234.6 L590.3 235.1 L591.1 235.6 L591.8 236.1 L592.6 236.6 L593.3 237.1 L594.1 237.6 L594.9 238.0 L595.6 238.5 L596.4 238.9 L597.1 239.3 L597.9 239.7 L598.7 240.1 L599.4 240.5 L600.2 240.8 L600.9 241.1 L601.7 241.4 L602.5 241.7 L603.2 241.9 L604.0 242.1 L604.8 242.3 L605.5 242.4 L606.3 242.5 L607.0 242.6 L607.8 242.7 L608.6 242.7 L608.8 242.7 L609.3 242.7 L610.1 242.7 L610.8 242.6 L611.6 242.5 L612.4 242.4 L613.1 242.2 L613.9 242.0 L614.6 241.8 L615.4 241.6 L616.2 241.3 L616.9 241.0 L617.7 240.7 L618.5 240.3 L619.2 240.0 L620.0 239.6 L620.7 239.2 L621.5 238.7 L622.3 238.3 L623.0 237.8 L623.8 237.4 L624.5 236.9 L625.3 236.4 L626.1 235.9 L626.8 235.4 L627.6 234.9 L628.3 234.4 L629.1 233.9 L629.9 233.4 L630.6 232.9 L631.4 232.5 L632.2 232.0 L632.9 231.6 L633.7 231.1 L634.4 230.7 L635.2 230.4 L636.0 230.0 L636.7 229.7 L637.5 229.4 L638.2 229.1 L639.0 228.9 L639.8 228.7 L640.5 228.5 L641.3 228.4 L642.0 228.3 L642.8 228.3 L643.0 228.3 L643.6 228.3 L644.3 228.4 L645.1 228.5 L645.9 228.6 L646.6 228.8 L647.4 229.0 L648.1 229.3 L648.9 229.6 L649.7 230.0 L650.4 230.4 L651.2 230.8 L651.9 231.3 L652.7 231.9 L653.5 232.4 L654.2 233.0 L655.0 233.6 L655.8 234.3 L656.5 235.0 L657.3 235.7 L658.0 236.4 L658.8 237.1 L659.6 237.8 L660.3 238.6 L661.1 239.3 L661.8 240.1 L662.6 240.8 L663.4 241.6 L664.1 242.3 L664.9 243.0 L665.6 243.7 L666.4 244.4 L667.2 245.0 L667.9 245.7 L668.7 246.2 L669.4 246.8 L670.2 247.3 L671.0 247.7 L671.7 248.1 L672.5 248.5 L673.3 248.8 L674.0 249.1 L674.8 249.3 L675.5 249.5 L676.3 249.6" fill="none" stroke="#000" stroke-width="1.5" stroke-dasharray="2.6 2.3"/>
<rect x="539.3" y="15.4" width="137" height="49.2" fill="none" stroke="#999" stroke-width="1.2"/>
<line x1="556.42" y1="64.6" x2="556.42" y2="63.3" stroke="#444" stroke-width="0.9"/>
<line x1="556.42" y1="15.4" x2="556.42" y2="16.7" stroke="#444" stroke-width="0.9"/>
<line x1="573.55" y1="64.6" x2="573.55" y2="62" stroke="#444" stroke-width="0.9"/>
<line x1="573.55" y1="15.4" x2="573.55" y2="18" stroke="#444" stroke-width="0.9"/>
<line x1="590.67" y1="64.6" x2="590.67" y2="63.3" stroke="#444" stroke-width="0.9"/>
<line x1="590.67" y1="15.4" x2="590.67" y2="16.7" stroke="#444" stroke-width="0.9"/>
<line x1="607.8" y1="64.6" x2="607.8" y2="62" stroke="#444" stroke-width="0.9"/>
<line x1="607.8" y1="15.4" x2="607.8" y2="18" stroke="#444" stroke-width="0.9"/>
<line x1="624.92" y1="64.6" x2="624.92" y2="63.3" stroke="#444" stroke-width="0.9"/>
<line x1="624.92" y1="15.4" x2="624.92" y2="16.7" stroke="#444" stroke-width="0.9"/>
<line x1="642.05" y1="64.6" x2="642.05" y2="62" stroke="#444" stroke-width="0.9"/>
<line x1="642.05" y1="15.4" x2="642.05" y2="18" stroke="#444" stroke-width="0.9"/>
<line x1="659.17" y1="64.6" x2="659.17" y2="63.3" stroke="#444" stroke-width="0.9"/>
<line x1="659.17" y1="15.4" x2="659.17" y2="16.7" stroke="#444" stroke-width="0.9"/>
<line x1="539.3" y1="26.5" x2="541.5" y2="26.5" stroke="#444" stroke-width="0.9"/>
<line x1="676.3" y1="26.5" x2="674.1" y2="26.5" stroke="#444" stroke-width="0.9"/>
<line x1="539.3" y1="54.7" x2="541.5" y2="54.7" stroke="#444" stroke-width="0.9"/>
<line x1="676.3" y1="54.7" x2="674.1" y2="54.7" stroke="#444" stroke-width="0.9"/>
<text x="536.4" y="30.8" font-size="12" text-anchor="end" font-weight="normal" font-style="normal" fill="#111" >0</text>
<text x="536.4" y="59" font-size="12" text-anchor="end" font-weight="normal" font-style="normal" fill="#111" >-1</text>
<text x="608.3" y="39.2" font-size="12" text-anchor="middle" font-weight="normal" font-style="normal" fill="#111" >5 K</text>
<rect x="539.3" y="64.6" width="137" height="49.6" fill="none" stroke="#999" stroke-width="1.2"/>
<line x1="556.42" y1="114.2" x2="556.42" y2="112.9" stroke="#444" stroke-width="0.9"/>
<line x1="573.55" y1="114.2" x2="573.55" y2="111.6" stroke="#444" stroke-width="0.9"/>
<line x1="590.67" y1="114.2" x2="590.67" y2="112.9" stroke="#444" stroke-width="0.9"/>
<line x1="607.8" y1="114.2" x2="607.8" y2="111.6" stroke="#444" stroke-width="0.9"/>
<line x1="624.92" y1="114.2" x2="624.92" y2="112.9" stroke="#444" stroke-width="0.9"/>
<line x1="642.05" y1="114.2" x2="642.05" y2="111.6" stroke="#444" stroke-width="0.9"/>
<line x1="659.17" y1="114.2" x2="659.17" y2="112.9" stroke="#444" stroke-width="0.9"/>
<line x1="539.3" y1="75.8" x2="541.5" y2="75.8" stroke="#444" stroke-width="0.9"/>
<line x1="676.3" y1="75.8" x2="674.1" y2="75.8" stroke="#444" stroke-width="0.9"/>
<line x1="539.3" y1="103.5" x2="541.5" y2="103.5" stroke="#444" stroke-width="0.9"/>
<line x1="676.3" y1="103.5" x2="674.1" y2="103.5" stroke="#444" stroke-width="0.9"/>
<text x="536.4" y="80.1" font-size="12" text-anchor="end" font-weight="normal" font-style="normal" fill="#111" >0</text>
<text x="536.4" y="107.8" font-size="12" text-anchor="end" font-weight="normal" font-style="normal" fill="#111" >-1</text>
<text x="608.2" y="85.8" font-size="12" text-anchor="middle" font-weight="normal" font-style="normal" fill="#111" >10 K</text>
<rect x="539.3" y="114.2" width="137" height="48.7" fill="none" stroke="#999" stroke-width="1.2"/>
<line x1="556.42" y1="162.9" x2="556.42" y2="161.6" stroke="#444" stroke-width="0.9"/>
<line x1="573.55" y1="162.9" x2="573.55" y2="160.3" stroke="#444" stroke-width="0.9"/>
<line x1="590.67" y1="162.9" x2="590.67" y2="161.6" stroke="#444" stroke-width="0.9"/>
<line x1="607.8" y1="162.9" x2="607.8" y2="160.3" stroke="#444" stroke-width="0.9"/>
<line x1="624.92" y1="162.9" x2="624.92" y2="161.6" stroke="#444" stroke-width="0.9"/>
<line x1="642.05" y1="162.9" x2="642.05" y2="160.3" stroke="#444" stroke-width="0.9"/>
<line x1="659.17" y1="162.9" x2="659.17" y2="161.6" stroke="#444" stroke-width="0.9"/>
<line x1="539.3" y1="124.8" x2="541.5" y2="124.8" stroke="#444" stroke-width="0.9"/>
<line x1="676.3" y1="124.8" x2="674.1" y2="124.8" stroke="#444" stroke-width="0.9"/>
<line x1="539.3" y1="152.8" x2="541.5" y2="152.8" stroke="#444" stroke-width="0.9"/>
<line x1="676.3" y1="152.8" x2="674.1" y2="152.8" stroke="#444" stroke-width="0.9"/>
<text x="536.4" y="129.1" font-size="12" text-anchor="end" font-weight="normal" font-style="normal" fill="#111" >0</text>
<text x="536.4" y="157.1" font-size="12" text-anchor="end" font-weight="normal" font-style="normal" fill="#111" >-1</text>
<text x="608.8" y="133.7" font-size="12" text-anchor="middle" font-weight="normal" font-style="normal" fill="#111" >20 K</text>
<rect x="539.3" y="162.9" width="137" height="49.3" fill="none" stroke="#999" stroke-width="1.2"/>
<line x1="556.42" y1="212.2" x2="556.42" y2="210.9" stroke="#444" stroke-width="0.9"/>
<line x1="573.55" y1="212.2" x2="573.55" y2="209.6" stroke="#444" stroke-width="0.9"/>
<line x1="590.67" y1="212.2" x2="590.67" y2="210.9" stroke="#444" stroke-width="0.9"/>
<line x1="607.8" y1="212.2" x2="607.8" y2="209.6" stroke="#444" stroke-width="0.9"/>
<line x1="624.92" y1="212.2" x2="624.92" y2="210.9" stroke="#444" stroke-width="0.9"/>
<line x1="642.05" y1="212.2" x2="642.05" y2="209.6" stroke="#444" stroke-width="0.9"/>
<line x1="659.17" y1="212.2" x2="659.17" y2="210.9" stroke="#444" stroke-width="0.9"/>
<line x1="539.3" y1="175" x2="541.5" y2="175" stroke="#444" stroke-width="0.9"/>
<line x1="676.3" y1="175" x2="674.1" y2="175" stroke="#444" stroke-width="0.9"/>
<line x1="539.3" y1="206.2" x2="541.5" y2="206.2" stroke="#444" stroke-width="0.9"/>
<line x1="676.3" y1="206.2" x2="674.1" y2="206.2" stroke="#444" stroke-width="0.9"/>
<text x="536.4" y="179.3" font-size="12" text-anchor="end" font-weight="normal" font-style="normal" fill="#111" >0</text>
<text x="536.4" y="210.5" font-size="12" text-anchor="end" font-weight="normal" font-style="normal" fill="#111" >-1</text>
<text x="609" y="177.6" font-size="12" text-anchor="middle" font-weight="normal" font-style="normal" fill="#111" >50 K</text>
<rect x="539.3" y="212.2" width="137" height="48.8" fill="none" stroke="#999" stroke-width="1.2"/>
<line x1="556.42" y1="261" x2="556.42" y2="259.7" stroke="#444" stroke-width="0.9"/>
<line x1="573.55" y1="261" x2="573.55" y2="258.4" stroke="#444" stroke-width="0.9"/>
<line x1="590.67" y1="261" x2="590.67" y2="259.7" stroke="#444" stroke-width="0.9"/>
<line x1="607.8" y1="261" x2="607.8" y2="258.4" stroke="#444" stroke-width="0.9"/>
<line x1="624.92" y1="261" x2="624.92" y2="259.7" stroke="#444" stroke-width="0.9"/>
<line x1="642.05" y1="261" x2="642.05" y2="258.4" stroke="#444" stroke-width="0.9"/>
<line x1="659.17" y1="261" x2="659.17" y2="259.7" stroke="#444" stroke-width="0.9"/>
<line x1="539.3" y1="228.3" x2="541.5" y2="228.3" stroke="#444" stroke-width="0.9"/>
<line x1="676.3" y1="228.3" x2="674.1" y2="228.3" stroke="#444" stroke-width="0.9"/>
<line x1="539.3" y1="248.7" x2="541.5" y2="248.7" stroke="#444" stroke-width="0.9"/>
<line x1="676.3" y1="248.7" x2="674.1" y2="248.7" stroke="#444" stroke-width="0.9"/>
<text x="536.4" y="232.6" font-size="12" text-anchor="end" font-weight="normal" font-style="normal" fill="#111" >0.0</text>
<text x="536.4" y="253" font-size="12" text-anchor="end" font-weight="normal" font-style="normal" fill="#111" >-0.5</text>
<text x="608.8" y="226.6" font-size="12" text-anchor="middle" font-weight="normal" font-style="normal" fill="#111" >80 K</text>
<text x="539.3" y="273" font-size="12" text-anchor="middle" font-weight="normal" font-style="normal" fill="#111" >0</text>
<text x="573.55" y="273" font-size="12" text-anchor="middle" font-weight="normal" font-style="normal" fill="#111" >90</text>
<text x="607.8" y="273" font-size="12" text-anchor="middle" font-weight="normal" font-style="normal" fill="#111" >180</text>
<text x="642.05" y="273" font-size="12" text-anchor="middle" font-weight="normal" font-style="normal" fill="#111" >270</text>
<text x="676.3" y="273" font-size="12" text-anchor="middle" font-weight="normal" font-style="normal" fill="#111" >360</text>
<text x="609.8" y="284.6" font-size="12" text-anchor="middle" fill="#111"><tspan font-style="italic">&#946;</tspan><tspan dx="-0.6"> (°)</tspan></text>
</g>
<defs><clipPath id="bclip"><rect x="35" y="160" width="126" height="101"/></clipPath></defs>
<g clip-path="url(#bclip)">
<path d="M35 197.79 L36.05 199 L37.1 200.15 L38.15 201.27 L39.2 202.35 L40.25 203.43 L41.3 204.51 L42.35 205.62 L43.4 206.76 L44.45 207.96 L45.5 209.23 L46.55 210.56 L47.6 211.95 L48.65 213.38 L49.7 214.84 L50.75 216.3 L51.8 217.76 L52.85 219.21 L53.9 220.62 L54.95 221.99 L56 223.31 L57.05 224.6 L58.1 225.87 L59.15 227.11 L60.2 228.34 L61.25 229.57 L62.3 230.8 L63.35 232.01 L64.4 233.22 L65.45 234.4 L66.5 235.55 L67.55 236.69 L68.6 237.81 L69.65 238.91 L70.7 239.99 L71.75 241.04 L72.8 242.09 L73.85 243.15 L74.9 244.16 L75.95 245.09 L77 245.92 L78.05 246.69 L79.1 247.45 L80.15 248.19 L81.2 248.9 L82.25 249.58 L83.3 250.2 L84.35 250.76 L85.4 251.24 L86.45 251.64 L87.5 251.94 L88.55 252.18 L89.6 252.42 L90.65 252.64 L91.7 252.85 L92.75 253.03 L93.8 253.19 L94.85 253.32 L95.9 253.42 L96.95 253.48 L98 253.5 L99.05 253.48 L100.1 253.41 L101.15 253.31 L102.2 253.17 L103.25 253.01 L104.3 252.82 L105.35 252.6 L106.4 252.37 L107.45 252.12 L108.5 251.87 L109.55 251.55 L110.6 251.14 L111.65 250.63 L112.7 250.04 L113.75 249.39 L114.8 248.69 L115.85 247.94 L116.9 247.16 L117.95 246.37 L119 245.57 L120.05 244.7 L121.1 243.72 L122.15 242.66 L123.2 241.56 L124.25 240.45 L125.3 239.35 L126.35 238.22 L127.4 237.07 L128.45 235.9 L129.5 234.7 L130.55 233.49 L131.6 232.26 L132.65 231 L133.7 229.73 L134.75 228.44 L135.8 227.16 L136.85 225.87 L137.9 224.57 L138.95 223.24 L140 221.89 L141.05 220.51 L142.1 219.07 L143.15 217.59 L144.2 216.08 L145.25 214.55 L146.3 213.01 L147.35 211.49 L148.4 210 L149.45 208.54 L150.5 207.14 L151.55 205.82 L152.6 204.56 L153.65 203.36 L154.7 202.2 L155.75 201.07 L156.8 199.94 L157.85 198.8 L158.9 197.64 L159.95 196.43 L161 195.17" fill="none" stroke="#a9d68e" stroke-width="6"/>
<path d="M35 197.79 L36.05 199 L37.1 200.15 L38.15 201.27 L39.2 202.35 L40.25 203.43 L41.3 204.51 L42.35 205.62 L43.4 206.76 L44.45 207.96 L45.5 209.23 L46.55 210.56 L47.6 211.95 L48.65 213.38 L49.7 214.84 L50.75 216.3 L51.8 217.76 L52.85 219.21 L53.9 220.62 L54.95 221.99 L56 223.31 L57.05 224.6 L58.1 225.87 L59.15 227.11 L60.2 228.34 L61.25 229.57 L62.3 230.8 L63.35 232.01 L64.4 233.22 L65.45 234.4 L66.5 235.55 L67.55 236.69 L68.6 237.81 L69.65 238.91 L70.7 239.99 L71.75 241.04 L72.8 242.09 L73.85 243.15 L74.9 244.16 L75.95 245.09 L77 245.92 L78.05 246.69 L79.1 247.45 L80.15 248.19 L81.2 248.9 L82.25 249.58 L83.3 250.2 L84.35 250.76 L85.4 251.24 L86.45 251.64 L87.5 251.94 L88.55 252.18 L89.6 252.42 L90.65 252.64 L91.7 252.85 L92.75 253.03 L93.8 253.19 L94.85 253.32 L95.9 253.42 L96.95 253.48 L98 253.5 L99.05 253.48 L100.1 253.41 L101.15 253.31 L102.2 253.17 L103.25 253.01 L104.3 252.82 L105.35 252.6 L106.4 252.37 L107.45 252.12 L108.5 251.87 L109.55 251.55 L110.6 251.14 L111.65 250.63 L112.7 250.04 L113.75 249.39 L114.8 248.69 L115.85 247.94 L116.9 247.16 L117.95 246.37 L119 245.57 L120.05 244.7 L121.1 243.72 L122.15 242.66 L123.2 241.56 L124.25 240.45 L125.3 239.35 L126.35 238.22 L127.4 237.07 L128.45 235.9 L129.5 234.7 L130.55 233.49 L131.6 232.26 L132.65 231 L133.7 229.73 L134.75 228.44 L135.8 227.16 L136.85 225.87 L137.9 224.57 L138.95 223.24 L140 221.89 L141.05 220.51 L142.1 219.07 L143.15 217.59 L144.2 216.08 L145.25 214.55 L146.3 213.01 L147.35 211.49 L148.4 210 L149.45 208.54 L150.5 207.14 L151.55 205.82 L152.6 204.56 L153.65 203.36 L154.7 202.2 L155.75 201.07 L156.8 199.94 L157.85 198.8 L158.9 197.64 L159.95 196.43 L161 195.17" fill="none" stroke="#d6ecc6" stroke-width="3.6"/>
<path d="M35 217.45 L36.05 217.76 L37.1 218.06 L38.15 218.36 L39.2 218.66 L40.25 218.96 L41.3 219.26 L42.35 219.56 L43.4 219.87 L44.45 220.17 L45.5 220.48 L46.55 220.77 L47.6 221.06 L48.65 221.35 L49.7 221.64 L50.75 221.95 L51.8 222.27 L52.85 222.61 L53.9 222.98 L54.95 223.37 L56 223.82 L57.05 224.34 L58.1 224.9 L59.15 225.49 L60.2 226.09 L61.25 226.68 L62.3 227.3 L63.35 227.93 L64.4 228.61 L65.45 229.33 L66.5 230.12 L67.55 231 L68.6 231.95 L69.65 232.96 L70.7 234.01 L71.75 235.07 L72.8 236.12 L73.85 237.15 L74.9 238.13 L75.95 239.05 L77 239.87 L78.05 240.6 L79.1 241.32 L80.15 242.11 L81.2 243 L82.25 243.96 L83.3 244.95 L84.35 245.93 L85.4 246.85 L86.45 247.68 L87.5 248.37 L88.55 248.96 L89.6 249.54 L90.65 250.09 L91.7 250.62 L92.75 251.1 L93.8 251.55 L94.85 251.95 L95.9 252.29 L96.95 252.58 L98 252.8 L99.05 252.58 L100.1 252.29 L101.15 251.95 L102.2 251.55 L103.25 251.1 L104.3 250.62 L105.35 250.09 L106.4 249.54 L107.45 248.96 L108.5 248.37 L109.55 247.68 L110.6 246.85 L111.65 245.93 L112.7 244.95 L113.75 243.96 L114.8 243 L115.85 242.11 L116.9 241.32 L117.95 240.6 L119 239.87 L120.05 239.05 L121.1 238.13 L122.15 237.15 L123.2 236.12 L124.25 235.07 L125.3 234.01 L126.35 232.96 L127.4 231.95 L128.45 231 L129.5 230.12 L130.55 229.33 L131.6 228.61 L132.65 227.93 L133.7 227.3 L134.75 226.68 L135.8 226.09 L136.85 225.49 L137.9 224.9 L138.95 224.34 L140 223.82 L141.05 223.37 L142.1 222.98 L143.15 222.61 L144.2 222.27 L145.25 221.95 L146.3 221.64 L147.35 221.35 L148.4 221.06 L149.45 220.77 L150.5 220.48 L151.55 220.17 L152.6 219.87 L153.65 219.56 L154.7 219.26 L155.75 218.96 L156.8 218.66 L157.85 218.36 L158.9 218.06 L159.95 217.76 L161 217.45" fill="none" stroke="#f4a480" stroke-width="5.8"/>
<path d="M35 217.45 L36.05 217.76 L37.1 218.06 L38.15 218.36 L39.2 218.66 L40.25 218.96 L41.3 219.26 L42.35 219.56 L43.4 219.87 L44.45 220.17 L45.5 220.48 L46.55 220.77 L47.6 221.06 L48.65 221.35 L49.7 221.64 L50.75 221.95 L51.8 222.27 L52.85 222.61 L53.9 222.98 L54.95 223.37 L56 223.82 L57.05 224.34 L58.1 224.9 L59.15 225.49 L60.2 226.09 L61.25 226.68 L62.3 227.3 L63.35 227.93 L64.4 228.61 L65.45 229.33 L66.5 230.12 L67.55 231 L68.6 231.95 L69.65 232.96 L70.7 234.01 L71.75 235.07 L72.8 236.12 L73.85 237.15 L74.9 238.13 L75.95 239.05 L77 239.87 L78.05 240.6 L79.1 241.32 L80.15 242.11 L81.2 243 L82.25 243.96 L83.3 244.95 L84.35 245.93 L85.4 246.85 L86.45 247.68 L87.5 248.37 L88.55 248.96 L89.6 249.54 L90.65 250.09 L91.7 250.62 L92.75 251.1 L93.8 251.55 L94.85 251.95 L95.9 252.29 L96.95 252.58 L98 252.8 L99.05 252.58 L100.1 252.29 L101.15 251.95 L102.2 251.55 L103.25 251.1 L104.3 250.62 L105.35 250.09 L106.4 249.54 L107.45 248.96 L108.5 248.37 L109.55 247.68 L110.6 246.85 L111.65 245.93 L112.7 244.95 L113.75 243.96 L114.8 243 L115.85 242.11 L116.9 241.32 L117.95 240.6 L119 239.87 L120.05 239.05 L121.1 238.13 L122.15 237.15 L123.2 236.12 L124.25 235.07 L125.3 234.01 L126.35 232.96 L127.4 231.95 L128.45 231 L129.5 230.12 L130.55 229.33 L131.6 228.61 L132.65 227.93 L133.7 227.3 L134.75 226.68 L135.8 226.09 L136.85 225.49 L137.9 224.9 L138.95 224.34 L140 223.82 L141.05 223.37 L142.1 222.98 L143.15 222.61 L144.2 222.27 L145.25 221.95 L146.3 221.64 L147.35 221.35 L148.4 221.06 L149.45 220.77 L150.5 220.48 L151.55 220.17 L152.6 219.87 L153.65 219.56 L154.7 219.26 L155.75 218.96 L156.8 218.66 L157.85 218.36 L158.9 218.06 L159.95 217.76 L161 217.45" fill="none" stroke="#fbd9c8" stroke-width="2.9"/>
<path d="M35 217.45 L36.05 217.76 L37.1 218.06 L38.15 218.36 L39.2 218.66 L40.25 218.96 L41.3 219.26 L42.35 219.56 L43.4 219.87 L44.45 220.17 L45.5 220.48 L46.55 220.77 L47.6 221.06 L48.65 221.35 L49.7 221.64 L50.75 221.95 L51.8 222.27 L52.85 222.61 L53.9 222.98 L54.95 223.37 L56 223.82 L57.05 224.34 L58.1 224.9 L59.15 225.49 L60.2 226.09 L61.25 226.68 L62.3 227.3 L63.35 227.93 L64.4 228.61 L65.45 229.33 L66.5 230.12 L67.55 231 L68.6 231.95 L69.65 232.96 L70.7 234.01 L71.75 235.07 L72.8 236.12 L73.85 237.15 L74.9 238.13 L75.95 239.05 L77 239.87 L78.05 240.6 L79.1 241.32 L80.15 242.11 L81.2 243 L82.25 243.96 L83.3 244.95 L84.35 245.93 L85.4 246.85 L86.45 247.68 L87.5 248.37 L88.55 248.96 L89.6 249.54 L90.65 250.09 L91.7 250.62 L92.75 251.1 L93.8 251.55 L94.85 251.95 L95.9 252.29 L96.95 252.58 L98 252.8 L99.05 252.58 L100.1 252.29 L101.15 251.95 L102.2 251.55 L103.25 251.1 L104.3 250.62 L105.35 250.09 L106.4 249.54 L107.45 248.96 L108.5 248.37 L109.55 247.68 L110.6 246.85 L111.65 245.93 L112.7 244.95 L113.75 243.96 L114.8 243 L115.85 242.11 L116.9 241.32 L117.95 240.6 L119 239.87 L120.05 239.05 L121.1 238.13 L122.15 237.15 L123.2 236.12 L124.25 235.07 L125.3 234.01 L126.35 232.96 L127.4 231.95 L128.45 231 L129.5 230.12 L130.55 229.33 L131.6 228.61 L132.65 227.93 L133.7 227.3 L134.75 226.68 L135.8 226.09 L136.85 225.49 L137.9 224.9 L138.95 224.34 L140 223.82 L141.05 223.37 L142.1 222.98 L143.15 222.61 L144.2 222.27 L145.25 221.95 L146.3 221.64 L147.35 221.35 L148.4 221.06 L149.45 220.77 L150.5 220.48 L151.55 220.17 L152.6 219.87 L153.65 219.56 L154.7 219.26 L155.75 218.96 L156.8 218.66 L157.85 218.36 L158.9 218.06 L159.95 217.76 L161 217.45" fill="none" stroke="#fff6f0" stroke-width="2" stroke-dasharray="1.1 1"/>
</g>
<g>
<rect x="72" y="191" width="55" height="37.5" fill="#5a56e6"/>
<polygon points="72.2,206.8 86.3,206 89.6,205.1 101.2,206 117.9,204.3 121.2,206.8 117.9,214.3 109.6,216.8 84.6,217.6 78,222.6 74.6,228.5 72.2,228.5" fill="#a9b5ea"/>
<polygon points="73,207.6 79.6,207.6 82.1,216 74.6,215" fill="#b052e0"/>
<polygon points="101.2,206.4 121.2,204.3 121.2,207.3 101.2,209.3" fill="#3ea6e6"/>
<polygon points="117.9,207.6 127,206 127,215 117.9,215" fill="#b24ee0"/>
<ellipse cx="92" cy="205.5" rx="3.5" ry="1.6" fill="#dde2f6"/>
<rect x="122.9" y="202.3" width="3.4" height="0.8" fill="#e8e8ff"/>
<rect x="99.8" y="191" width="1.3" height="37.5" fill="#d24ed8"/>
<rect x="102.7" y="191" width="1.1" height="37.5" fill="#d24ed8"/>
<text x="102.2" y="199.6" font-size="10" fill="#fff">WTe<tspan dy="2.2" font-size="6.8">2</tspan></text>
<text x="72.8" y="226.3" font-size="10" fill="#fff">Fe<tspan dy="2.2" font-size="6.8">3</tspan><tspan dy="-2.2">GaTe</tspan><tspan dy="2.2" font-size="6.8">2</tspan></text>
<rect x="117.2" y="225.4" width="7" height="1.5" fill="#fff"/>
<path d="M111 199.8 L108.6 203.6" stroke="#fff" stroke-width="1.2"/><polygon points="107.3,205.8 107.3,201.9 110.6,203.8" fill="#fff"/>
<path d="M87.6 217.6 L90 213.8" stroke="#fff" stroke-width="1.2"/><polygon points="91.2,212 91.3,215.7 88.1,213.9" fill="#fff"/>
<rect x="126" y="204" width="1" height="1" fill="#fff"/>
</g>
<rect x="35" y="160" width="126.30000000000001" height="101" fill="none" stroke="#555" stroke-width="1"/>
<line x1="35" y1="261" x2="35" y2="258.5" stroke="#555" stroke-width="0.8"/>
<line x1="56" y1="261" x2="56" y2="258.5" stroke="#555" stroke-width="0.8"/>
<line x1="77" y1="261" x2="77" y2="258.5" stroke="#555" stroke-width="0.8"/>
<line x1="98" y1="261" x2="98" y2="258.5" stroke="#555" stroke-width="0.8"/>
<line x1="119" y1="261" x2="119" y2="258.5" stroke="#555" stroke-width="0.8"/>
<line x1="140" y1="261" x2="140" y2="258.5" stroke="#555" stroke-width="0.8"/>
<line x1="161" y1="261" x2="161" y2="258.5" stroke="#555" stroke-width="0.8"/>
<line x1="45.5" y1="261" x2="45.5" y2="259.5" stroke="#555" stroke-width="0.8"/>
<line x1="66.5" y1="261" x2="66.5" y2="259.5" stroke="#555" stroke-width="0.8"/>
<line x1="87.5" y1="261" x2="87.5" y2="259.5" stroke="#555" stroke-width="0.8"/>
<line x1="108.5" y1="261" x2="108.5" y2="259.5" stroke="#555" stroke-width="0.8"/>
<line x1="129.5" y1="261" x2="129.5" y2="259.5" stroke="#555" stroke-width="0.8"/>
<line x1="150.5" y1="261" x2="150.5" y2="259.5" stroke="#555" stroke-width="0.8"/>
<line x1="35" y1="253.5" x2="37.5" y2="253.5" stroke="#555" stroke-width="0.8"/>
<line x1="35" y1="218.5" x2="37.5" y2="218.5" stroke="#555" stroke-width="0.8"/>
<line x1="35" y1="183.5" x2="37.5" y2="183.5" stroke="#555" stroke-width="0.8"/>
<line x1="35" y1="236" x2="36.5" y2="236" stroke="#555" stroke-width="0.8"/>
<line x1="35" y1="201" x2="36.5" y2="201" stroke="#555" stroke-width="0.8"/>
<text x="31.6" y="187.5" font-size="11.2" text-anchor="end" font-weight="normal" font-style="normal" fill="#111" >600</text>
<text x="31.6" y="222.5" font-size="11.2" text-anchor="end" font-weight="normal" font-style="normal" fill="#111" >300</text>
<text x="31.6" y="257.5" font-size="11.2" text-anchor="end" font-weight="normal" font-style="normal" fill="#111" >0</text>
<text x="35" y="272.8" font-size="11.2" text-anchor="middle" font-weight="normal" font-style="normal" fill="#111" >-9</text>
<text x="56" y="272.8" font-size="11.2" text-anchor="middle" font-weight="normal" font-style="normal" fill="#111" >-6</text>
<text x="77" y="272.8" font-size="11.2" text-anchor="middle" font-weight="normal" font-style="normal" fill="#111" >-3</text>
<text x="98" y="272.8" font-size="11.2" text-anchor="middle" font-weight="normal" font-style="normal" fill="#111" >0</text>
<text x="119" y="272.8" font-size="11.2" text-anchor="middle" font-weight="normal" font-style="normal" fill="#111" >3</text>
<text x="140" y="272.8" font-size="11.2" text-anchor="middle" font-weight="normal" font-style="normal" fill="#111" >6</text>
<text x="161" y="272.8" font-size="11.2" text-anchor="middle" font-weight="normal" font-style="normal" fill="#111" >9</text>
<text x="99.4" y="283.8" font-size="11.2" text-anchor="middle" fill="#111"><tspan font-style="italic">H</tspan> (T)</text>
<text transform="translate(10.8,211) rotate(-90)" font-size="11.2" text-anchor="middle" fill="#111"><tspan font-style="italic">MR</tspan> (%)</text>
<text x="159.7" y="257.5" font-size="9.6" text-anchor="end" fill="#111"><tspan font-style="italic">T</tspan> = 5 K</text>
<line x1="43.4" y1="166.2" x2="65.5" y2="166.2" stroke="#b7dca0" stroke-width="0.8" stroke-dasharray="1 1"/>
<circle cx="54.6" cy="166.2" r="2.4" fill="#fff" stroke="#b3da98" stroke-width="0.9"/>
<line x1="43.4" y1="181.2" x2="65.5" y2="181.2" stroke="#f5b49a" stroke-width="0.8" stroke-dasharray="1 1"/>
<circle cx="54.6" cy="181.2" r="2.4" fill="#fff" stroke="#f3ae92" stroke-width="0.9"/>
<text x="69.4" y="170.4" font-size="10.5" fill="#111">WTe<tspan dy="2.6" font-size="7.2">2</tspan></text>
<text x="69.4" y="185" font-size="10.5" fill="#111">WTe<tspan dy="2.6" font-size="7.2">2</tspan><tspan dy="-2.6"> / Fe</tspan><tspan dy="2.6" font-size="7.2">3</tspan><tspan dy="-2.6">GaTe</tspan><tspan dy="2.6" font-size="7.2">2</tspan></text>
<g>
<defs><clipPath id="slabclip"><polygon points="10.4,76.6 107.5,20.2 163.9,59.8 69,136.5"/></clipPath><clipPath id="flakeclip"><polygon points="30.5,72 107.5,26 146,59 77,109.5"/></clipPath></defs>
<polygon points="10.4,76.6 69,136.5 163.9,59.8 163.2,63.6 69,140 11,80" fill="#e3d8c3"/>
<polygon points="10.4,76.6 107.5,20.2 163.9,59.8 69,136.5" fill="#fdf1dc"/>
<polyline points="10.4,76.6 107.5,20.2 163.9,59.8" fill="none" stroke="#dccfb7" stroke-width="6" clip-path="url(#slabclip)"/>
<polyline points="10.4,76.6 107.5,20.2 163.9,59.8" fill="none" stroke="#e9dfcb" stroke-width="2" clip-path="url(#slabclip)"/>
<polygon points="146,59 77,109.5 78.5,113 146.5,62.5" fill="#b5e6be"/>
<polygon points="30.5,72 107.5,26 146,59 77,109.5" fill="#abe5ba"/>
<polyline points="30.5,72 107.5,26 146,59" fill="none" stroke="#97d2a7" stroke-width="3.2" clip-path="url(#flakeclip)"/>
<line x1="146" y1="59" x2="77" y2="109.5" stroke="#8cc79c" stroke-width="0.8"/>
<polygon points="32.34,105.85 54.86,90.95 58.17,95.95 35.65,110.86" fill="#f2857c" />
<polygon points="51.52,93.16 128.25,42.37 131.56,47.38 54.84,98.16" fill="#a4ad8b" clip-path="url(#flakeclip)"/>
<polygon points="118.24,49 142.18,33.16 145.49,38.16 121.56,54" fill="#f07e78" clip-path="url(#endclip)"/>
<defs><clipPath id="endclip"><polygon points="107.5,0 200,0 200,80 145,57.5 107.5,26"/></clipPath></defs>
<polygon points="121.58,46.79 142.18,33.16 143.5,35.16 122.9,48.79" fill="#ee5f5e" clip-path="url(#endclip)"/>
<polygon points="24.8,113.5 27.6,103.8 38.3,112.9" fill="#f2766f" />
<text transform="translate(100.4,83) rotate(-32.5)" font-size="11.2" fill="#111">Fe<tspan dy="2.6" font-size="7.8">3</tspan><tspan dy="-2.6">GaTe</tspan><tspan dy="2.6" font-size="7.8">2</tspan></text>
<text transform="translate(118.6,90.3) rotate(-32.5)" font-size="11.4" fill="#111">WTe<tspan dy="2.6" font-size="8">2</tspan></text>
<path d="M34.3 74.9 C35.52 73.7 38.3 69.7 41.6 67.7 C44.9 65.7 49.95 63.25 54.1 62.9 C58.25 62.55 63.03 63.6 66.5 65.6 C69.97 67.6 72.88 71.27 74.9 74.9 C76.92 78.53 77.98 83.58 78.6 87.4 C79.22 91.22 78.88 94.33 78.6 97.8 C78.32 101.27 77.18 106.47 76.9 108.2" fill="none" stroke="#e27ee4" stroke-width="2.2" stroke-dasharray="3.8 2.4"/>
<line x1="25.6" y1="66.4" x2="73.9" y2="111.3" stroke="#000" stroke-width="2"/>
<polygon points="79.2,116.8 71,113.9 76.8,108.6" fill="#000"/>
<line x1="53.6" y1="92.5" x2="68.3" y2="52.5" stroke="#000" stroke-width="2"/>
<polygon points="70.1,45.9 64.4,51.6 72.3,53.6" fill="#000"/>
<line x1="53.6" y1="92.5" x2="45.9" y2="97.5" stroke="#000" stroke-width="2"/>
<polygon points="41.2,101 43.4,95.4 48.4,99.6" fill="#000"/>
<line x1="53.6" y1="92.5" x2="72.3" y2="85.8" stroke="#8a3ff0" stroke-width="1.4"/>
<polygon points="77,85 71.4,82.6 72.8,88.9" fill="#8a3ff0"/>
<path d="M57 83.2 A10 10 0 0 1 63.2 89.6" fill="none" stroke="#8a3ff0" stroke-width="1"/>
<text x="62.4" y="44.5" font-size="10.5" fill="#111" font-style="italic">z</text>
<text x="33.3" y="98" font-size="10.5" fill="#111" font-style="italic">x</text>
<text x="80.6" y="120.2" font-size="10.5" fill="#111" font-style="italic">y</text>
<text x="61" y="81" font-size="11" fill="#111" font-style="italic">&#946;</text>
<text x="86.4" y="89" font-size="11.8" fill="#8a3ff0" font-style="italic">H</text>
<text x="15" y="117.5" font-size="10.5" fill="#e03030" font-style="italic">I</text>
</g>
</svg></body></html>
